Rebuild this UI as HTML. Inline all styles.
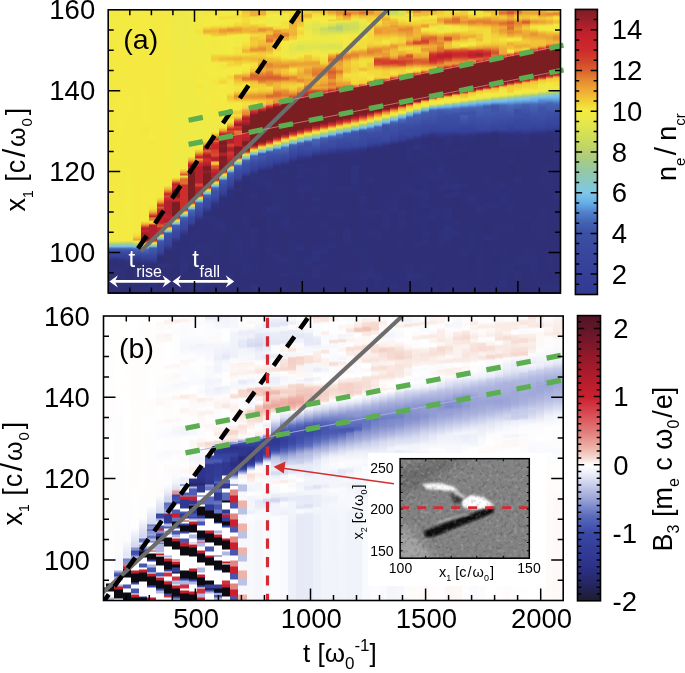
<!DOCTYPE html><html><head><meta charset="utf-8"><title>figure</title><style>html,body{margin:0;padding:0;background:#fff}#c{position:relative;width:685px;height:673px;overflow:hidden;background:#fff}#c i{position:absolute;display:block}.ha{top:9px;height:285px}.hb{top:315px;height:286px}#ca{left:575.4px;top:9.4px;width:22px;height:285.1px;background:linear-gradient(#7b1e22 0px,#95202a 10.2px,#b8202c 20.4px,#c8222c 30.5px,#cc2a2c 40.7px,#d2402c 50.9px,#d8602e 61.1px,#e68a32 71.3px,#eeaa35 81.5px,#f2cc35 91.6px,#f4eb42 101.8px,#e9e84a 112px,#d9e252 122.2px,#c8da5e 132.4px,#b8d070 142.6px,#a4cb8a 152.7px,#92c8a8 162.9px,#88c8c6 173.1px,#7ec8e8 183.3px,#68b0e8 193.5px,#5080cc 203.6px,#4262b0 213.8px,#3c50a3 224px,#38469c 244.4px,#353f98 264.7px,#323a92 285.1px)}#cb{left:577.5px;top:315.6px;width:23px;height:285.2px;background:linear-gradient(#531424 0px,#621629 12.9px,#9c1a2a 47px,#cc1f2e 81px,#d84c55 98px,#e07a78 115px,#eeb3a8 132px,#f6dcd3 142.3px,#ffffff 149.1px,#f0f2fa 155.9px,#d1d6ee 166.1px,#9aa3d6 183.1px,#5a6bbd 200.1px,#3a48a6 217.1px,#2c3188 251.2px,#262660 268.2px,#1d1b30 285.2px)}svg{position:absolute;left:0;top:0;font-family:"Liberation Sans",Arial,Helvetica,sans-serif}</style></head><body><div id="c"><i class="ha" style="left:108px;width:3px;background:linear-gradient(#f3eb43 0px,#f4e841 56px,#f4e941 61px,#f4e841 80px,#f4e841 137px,#f4e841 197px,#f3eb43 231px,#d8e153 233px,#c5d862 234px,#accd80 235px,#92c8a8 236px,#80c7da 237px,#67aae6 238px,#4e74c0 239px,#425aac 240px,#39499f 244px,#38469d 247px,#36429a 248px,#2f327c 251px,#2e2f75 253px,#2e3078 257px,#2f317b 260px,#2e2f75 263px,#2f317a 285px)"></i><i class="ha" style="left:110px;width:9px;background:linear-gradient(#f4e941 0px,#f4ea41 20px,#f4e841 49px,#f4e941 165px,#f4e841 180px,#f3eb43 231px,#ebe949 232px,#dce350 233px,#c5d861 234px,#adcd7f 235px,#91c8aa 236px,#80c7da 237px,#6ab1ea 238px,#517bc6 239px,#445eaf 240px,#3c4ea4 242px,#35429a 247px,#2e3079 251px,#2e2f75 256px,#2f317b 263px,#2e2f75 267px,#2e2f75 285px)"></i><i class="ha" style="left:118px;width:8px;background:linear-gradient(#f4eb42 0px,#f4eb42 39px,#f4e841 47px,#f4ea42 63px,#f4e841 79px,#f4eb42 91px,#f4ea41 112px,#f4e941 183px,#f4e741 187px,#f4ea42 191px,#f4e941 195px,#f4eb42 231px,#ece948 232px,#d8e153 233px,#c0d567 234px,#a6cc87 235px,#8fc8b0 236px,#80c7da 237px,#6bb1ea 238px,#517bc6 239px,#435cad 240px,#3a4aa0 243px,#343f97 248px,#2e3077 252px,#2e3078 267px,#2e2e75 285px)"></i><i class="ha" style="left:125px;width:9px;background:linear-gradient(#f4e740 0px,#f4eb42 14px,#f4e841 54px,#f4e941 63px,#f4e941 74px,#f4eb42 106px,#f4e841 110px,#f4e941 127px,#f3eb43 231px,#e9e84a 232px,#d2df57 233px,#bbd26c 234px,#a2cb8e 235px,#7dc6e1 237px,#67abe6 238px,#527dc8 239px,#4560b0 240px,#3c4fa4 242px,#343f98 248px,#2f317c 253px,#2e2e74 262px,#2e2e75 285px)"></i><i class="ha" style="left:133px;width:9px;background:linear-gradient(#f4eb42 0px,#f4e841 66px,#f4e841 223px,#f3e03d 226px,#f2ce36 228px,#eeac35 230px,#ea9933 231px,#f3e33e 232px,#e6e74c 233px,#d1de58 234px,#b9d06f 235px,#9cca98 236px,#88c8c6 237px,#71bae9 238px,#5686cf 239px,#4663b2 240px,#38479e 246px,#333b91 249px,#2e2f77 254px,#2e3078 265px,#2f317b 269px,#2e2f76 271px,#2e2f75 285px)"></i><i class="ha" style="left:141px;width:9px;background:linear-gradient(#f4eb42 0px,#f4e841 72px,#f4e740 76px,#f4ea41 81px,#f4ea41 104px,#f4eb42 116px,#f4e540 119px,#f2ea44 131px,#f4e841 136px,#f4eb42 211px,#f4e740 212px,#f2ca35 214px,#e89233 216px,#d0392c 218px,#c8222c 219px,#97202a 220px,#cb272c 221px,#c8222c 222px,#bd212c 223px,#97202a 225px,#a6202b 226px,#8f2028 228px,#7b1e22 229px,#7b1e22 231px,#cb272c 232px,#d6542d 233px,#eca234 234px,#f4e941 235px,#d6e154 236px,#b1ce7a 237px,#8cc8b9 238px,#70b8ea 239px,#4968b7 240px,#394aa0 246px,#35419a 249px,#2e3078 254px,#2e2f76 260px,#2f317b 264px,#2e3077 273px,#2e3078 285px)"></i><i class="ha" style="left:149px;width:9px;background:linear-gradient(#f4e941 0px,#f4e941 39px,#f4e841 75px,#f4e941 115px,#f4ea41 131px,#f4e540 135px,#f4eb42 137px,#f4e841 148px,#f4ea42 195px,#f3df3d 200px,#f1c435 202px,#e99533 204px,#d44b2d 206px,#cd2c2c 207px,#c3212c 208px,#e89333 209px,#e17a30 210px,#df7430 211px,#f3d438 212px,#f3e13e 213px,#f2cd35 214px,#eb9d34 215px,#b1202c 216px,#b1202c 229px,#8d1f28 230px,#c8222c 231px,#d4482d 232px,#eb9c34 233px,#f4e941 234px,#d4e056 235px,#a6cc87 236px,#84c7d0 237px,#609bdd 238px,#435cad 239px,#343f98 250px,#2e2f76 255px,#2e2f76 264px,#2e2f76 267px,#2f317b 271px,#2e3079 285px)"></i><i class="ha" style="left:157px;width:8px;background:linear-gradient(#f4e841 0px,#f4e841 35px,#f4e941 175px,#f4e841 188px,#f3d639 190px,#f2c935 191px,#eb9d34 193px,#e27e31 194px,#d6552d 195px,#cf352c 196px,#c9242c 197px,#d9642e 198px,#d13b2c 200px,#cd2c2c 201px,#c4222c 203px,#be212c 205px,#c1212c 214px,#d13d2c 215px,#d75b2e 216px,#d75b2e 217px,#d5512d 218px,#be212c 219px,#be212c 222px,#a8202b 223px,#cc292c 224px,#dc6b2f 225px,#f0bf35 226px,#eae849 227px,#c4d862 228px,#99c99c 229px,#7cc6e3 230px,#527dc7 231px,#425aac 232px,#3b4da3 236px,#36439b 243px,#313687 246px,#2f317b 247px,#2e2e75 249px,#2e2e75 254px,#2f327e 256px,#2e2e75 266px,#2e2f77 275px,#2e2f75 282px,#2f327c 285px)"></i><i class="ha" style="left:164px;width:9px;background:linear-gradient(#f4e841 0px,#f4ea41 26px,#f4e841 46px,#f4e740 49px,#f3eb42 54px,#f4ea42 70px,#f4e841 149px,#f4e841 166px,#f4e841 170px,#f4ea41 176px,#f3e33f 177px,#f1c535 179px,#eba034 181px,#e58732 182px,#d3442c 184px,#cc2b2c 185px,#c5222c 186px,#d6552d 187px,#d2402c 188px,#cb272c 190px,#c8222c 191px,#b1202c 193px,#b1202c 205px,#c4222c 207px,#c3212c 209px,#b1202c 210px,#b1202c 213px,#cb282c 214px,#d6542d 215px,#b6202c 216px,#ce312c 217px,#e07830 218px,#f1c735 219px,#e5e74c 220px,#bed469 221px,#8dc8b8 222px,#68ace7 223px,#4159ab 224px,#3b4da3 227px,#36439b 236px,#323a90 238px,#2e2f76 242px,#2e2f75 253px,#2f317c 256px,#2e2f75 261px,#2e2f76 270px,#2e2f77 278px,#2e3077 285px)"></i><i class="ha" style="left:172px;width:9px;background:linear-gradient(#eee946 0px,#f0ea45 44px,#f0ea45 57px,#f0ea45 80px,#f1ea44 167px,#f4eb42 168px,#f3e03d 169px,#f2ce36 170px,#e99533 172px,#d13e2c 174px,#ca252c 175px,#af202b 176px,#cc2a2c 177px,#c9242c 179px,#c0212c 180px,#9f202b 181px,#7b1e22 183px,#7b1e22 188px,#ba202c 189px,#ca272c 190px,#ca262c 192px,#922029 193px,#7b1e22 194px,#7b1e22 207px,#bb202c 208px,#cf342c 209px,#f2d137 211px,#e1e54e 212px,#bad16e 213px,#8fc8b0 214px,#72bbe9 215px,#4867b6 216px,#425bad 217px,#3949a0 223px,#36449c 228px,#313689 231px,#2f3079 234px,#2e2f76 244px,#2e2e75 285px)"></i><i class="ha" style="left:180px;width:9px;background:linear-gradient(#eee946 0px,#efea46 47px,#f0ea45 67px,#f1ea44 80px,#f0ea45 112px,#f0ea45 158px,#f3eb43 159px,#f3e33f 160px,#f1c335 162px,#e89333 164px,#d44b2d 166px,#e1e54e 167px,#f2d338 168px,#e99833 169px,#da652e 171px,#dd7030 172px,#dc6d2f 175px,#cd2e2c 176px,#cd2e2c 199px,#b2202c 200px,#cd2d2c 201px,#df7530 202px,#f1c735 203px,#e5e74c 204px,#bed469 205px,#92c8a7 206px,#77c0e7 207px,#5078c4 208px,#435cae 209px,#3b4da3 213px,#37459d 220px,#32398e 223px,#2f317b 226px,#2e3077 232px,#2e3078 244px,#2f317a 252px,#2f337f 259px,#2f317b 263px,#2e2f75 265px,#2e3078 272px,#2e2f75 285px)"></i><i class="ha" style="left:188px;width:8px;background:linear-gradient(#efea46 0px,#f0ea45 31px,#f2ea44 55px,#f1ea44 67px,#efea46 87px,#f1ea44 99px,#f0ea45 146px,#f4eb42 147px,#f2d338 149px,#eeae35 151px,#e99633 152px,#d44a2d 154px,#cc2b2c 155px,#c2212c 156px,#98202a 157px,#cb282c 158px,#c8232c 159px,#af202c 161px,#861f25 163px,#7b1e22 164px,#7b1e22 192px,#c1212c 193px,#d13e2c 194px,#e79033 195px,#f3da3b 196px,#dce350 197px,#b5cf74 198px,#8ec8b3 199px,#73bbe9 200px,#4968b7 201px,#38489f 209px,#37459d 213px,#35419a 214px,#2f327d 217px,#2e2f75 219px,#2e3079 227px,#2f307a 243px,#2e2f76 250px,#2f317b 254px,#2e2e75 261px,#2e2f77 270px,#2f327e 273px,#2e3079 283px,#2f317a 285px)"></i><i class="ha" style="left:195px;width:9px;background:linear-gradient(#f1ea44 0px,#f4e841 19px,#f3e13e 23px,#f0ea45 27px,#f1ea44 54px,#f3eb42 74px,#f4e53f 76px,#f4eb42 81px,#efea45 93px,#f0ea45 130px,#f2ea44 134px,#f3eb43 139px,#f4e640 140px,#f2cb35 142px,#eb9e34 144px,#e48331 145px,#d13e2c 147px,#cb282c 148px,#bf212c 149px,#eca134 150px,#d5522d 153px,#d0392c 154px,#cb282c 155px,#ca262c 157px,#b1202c 158px,#b1202c 174px,#d3432c 175px,#d3442c 177px,#c2212c 178px,#b1202c 179px,#b1202c 184px,#912029 185px,#c9242c 186px,#d6542d 187px,#eeaa35 188px,#f0ea45 189px,#ccdc5b 190px,#a0ca91 191px,#81c7d8 192px,#5b90d7 193px,#435dae 194px,#4159ac 196px,#3a4ba1 201px,#36439b 206px,#2f317b 211px,#2e2f75 218px,#2f3079 225px,#2e2f76 232px,#2e3079 234px,#2f337f 236px,#2e3078 241px,#2e3077 270px,#2f327c 272px,#2f317c 285px)"></i><i class="ha" style="left:203px;width:9px;background:linear-gradient(#f0ea45 0px,#f2ea43 1px,#f4e53f 3px,#f2ea43 8px,#f4eb42 17px,#f2ca35 20px,#eead35 22px,#efb135 23px,#f0bc35 24px,#f2cf36 25px,#f3e23e 26px,#f4ea41 27px,#f1ea45 48px,#f3eb43 56px,#f1ea44 77px,#f3eb43 93px,#f4e740 96px,#f0ea45 98px,#f0ea45 129px,#f4e43f 131px,#f2d338 133px,#f1c535 134px,#e78f32 136px,#d13e2c 138px,#c9252c 139px,#a9202b 140px,#d5512d 141px,#dc6b2f 142px,#cb272c 145px,#b8202c 146px,#a6202b 147px,#a6202b 148px,#c1212c 149px,#cd2c2c 150px,#cd2d2c 152px,#c9242c 153px,#b9202c 154px,#b9202c 156px,#871f26 157px,#7b1e22 158px,#7b1e22 161px,#8d1f28 162px,#8e1f28 164px,#7b1e22 165px,#7b1e22 176px,#891f26 177px,#c8222c 178px,#d44a2d 179px,#eb9e34 180px,#f4e841 181px,#d6e154 182px,#aece7d 183px,#8ac8c0 184px,#6cb4ec 185px,#4764b4 186px,#435cae 188px,#3b4da2 190px,#37449c 198px,#31388b 201px,#2e2f77 204px,#2f317b 208px,#2e2f76 219px,#2e2f76 225px,#2f317a 241px,#2f327d 244px,#2e2f76 247px,#2e2f75 269px,#2f317a 271px,#2f317b 276px,#2e2e74 279px,#2e2f75 285px)"></i><i class="ha" style="left:211px;width:9px;background:linear-gradient(#f4e640 0px,#f3e33f 3px,#f3eb43 6px,#f4eb42 16px,#f2ce36 19px,#efb535 21px,#efb035 22px,#f1c335 25px,#f3d73a 27px,#f4e740 28px,#f0ea45 31px,#f4e740 35px,#f0ea45 42px,#f2ea44 44px,#f2cf36 48px,#f2c935 50px,#f3d539 52px,#f4e941 54px,#f3eb43 68px,#f4e640 71px,#f4e640 75px,#f2ea44 78px,#f4e941 92px,#f4e740 95px,#f2ea44 109px,#ede947 120px,#f4e941 123px,#f2cf36 125px,#eca034 127px,#e27d31 128px,#d54e2d 129px,#ce322c 130px,#c9232c 131px,#e68b32 132px,#d3442c 133px,#cb282c 135px,#c9232c 136px,#ca262c 137px,#c7222c 139px,#cb272c 140px,#d13e2c 141px,#d3432c 144px,#d44c2d 145px,#d44c2d 147px,#cb282c 148px,#b1202c 149px,#b1202c 151px,#cc2a2c 152px,#f1c135 153px,#f1c535 155px,#eb9e34 156px,#d6562d 157px,#d6552d 159px,#c9242c 161px,#c9242c 163px,#b1202c 164px,#b1202c 167px,#c6222c 168px,#7b1e22 169px,#b0202c 170px,#cc2b2c 171px,#de7130 172px,#f1c635 173px,#e7e74b 174px,#c2d665 175px,#99c99c 176px,#7ec6e0 177px,#588ad2 178px,#4865b4 179px,#3e52a7 182px,#3c4fa4 184px,#3c4fa4 186px,#344099 192px,#303381 195px,#2e3079 200px,#2e2f75 203px,#2f317a 212px,#2e2f77 223px,#2e3079 232px,#2e3078 244px,#2e3078 248px,#2e2e75 272px,#2e2f76 285px)"></i><i class="ha" style="left:219px;width:9px;background:linear-gradient(#f3eb43 0px,#f4e841 7px,#f3e03e 8px,#f3e03d 10px,#f3eb42 12px,#f4ea42 15px,#f3d93a 18px,#f1c635 19px,#eeaa35 20px,#eb9e34 21px,#ea9933 22px,#eb9f34 23px,#f2c935 26px,#f3eb43 28px,#f2ea44 43px,#f4e640 45px,#f0bf35 49px,#f0ba35 50px,#f1c035 51px,#f4e841 54px,#f4eb42 55px,#f3e33f 56px,#f3eb43 62px,#f2eb43 67px,#f4e43f 69px,#f3df3d 71px,#f3d73a 72px,#f3d639 74px,#f4ea41 76px,#f1ea44 107px,#f3eb43 117px,#f4e640 118px,#f2ca35 120px,#e89333 122px,#d13b2c 124px,#c9242c 125px,#aa202b 126px,#d0392c 127px,#c9242c 128px,#b5202c 130px,#8a1f27 132px,#7b1e22 133px,#7b1e22 135px,#871f26 137px,#871f26 138px,#7b1e22 139px,#7b1e22 143px,#ae202b 144px,#b2202c 146px,#99202a 147px,#7b1e22 148px,#7d1e22 151px,#881f26 152px,#851f25 155px,#7f1e23 157px,#7b1e22 161px,#bd212c 162px,#cf362c 163px,#f2cc35 165px,#e6e74c 166px,#c6d960 167px,#a8cc84 168px,#88c8c5 169px,#69ade8 170px,#4866b5 171px,#4159ac 172px,#3c4fa4 175px,#343f98 184px,#2e2f77 189px,#2e3079 195px,#2e2f75 207px,#2f327e 219px,#2f3079 223px,#2e2f75 226px,#2e2f76 243px,#2e2f76 258px,#2e2f76 263px,#2f317b 265px,#2e2f75 272px,#2e3078 284px,#2e3078 285px)"></i><i class="ha" style="left:227px;width:8px;background:linear-gradient(#f3eb43 0px,#f3eb42 6px,#f3e13e 7px,#f3e03d 9px,#f3eb43 11px,#f4e741 15px,#f3e03d 17px,#f2cf36 18px,#eea935 19px,#e78e32 21px,#e89233 22px,#eeaa35 23px,#f1c735 25px,#f3dc3c 26px,#f3eb43 27px,#f4ea42 44px,#f3de3c 46px,#f0b935 49px,#efb635 50px,#f2ca35 52px,#f3df3d 54px,#f3d539 55px,#f3da3b 57px,#f4eb42 59px,#f3eb43 66px,#f3db3b 67px,#f3d83a 69px,#f4e33f 71px,#f1ea45 79px,#f4ea42 83px,#f3da3b 86px,#f2ca35 87px,#f2c835 89px,#f3dc3c 93px,#f4e740 94px,#f3eb43 99px,#f4e740 105px,#f3e23e 106px,#f3d73a 107px,#f3d639 109px,#f3dd3c 110px,#f4e941 111px,#f3de3c 113px,#f1c435 115px,#e99833 117px,#d5502d 119px,#ce322c 120px,#c8222c 121px,#d6562d 122px,#d2412c 123px,#cb282c 125px,#c8222c 126px,#b1202c 128px,#b1202c 134px,#d13c2c 135px,#d3462c 136px,#d3462c 137px,#ca272c 138px,#b1202c 139px,#b1202c 142px,#cd2f2c 143px,#cf362c 144px,#cf362c 145px,#ca262c 147px,#ca252c 149px,#b1202c 151px,#b1202c 153px,#871f26 154px,#bf212c 155px,#cf362c 156px,#f2c935 158px,#e8e84a 159px,#c4d862 160px,#9dca96 161px,#80c7d9 162px,#5b91d7 163px,#4560b1 164px,#3b4ea3 169px,#35419a 176px,#2f3079 182px,#2e3077 186px,#2e3078 246px,#2e3078 258px,#2e2f76 262px,#2f317b 265px,#2e2f76 278px,#2e3078 285px)"></i><i class="ha" style="left:234px;width:9px;background:linear-gradient(#f3eb43 0px,#f4e841 5px,#f3df3d 6px,#f3dd3c 8px,#f4e841 10px,#f4e841 13px,#f3de3c 14px,#f3d93a 16px,#f2d137 17px,#f0bb35 18px,#eb9f34 20px,#ea9833 21px,#f0b735 24px,#f2ce36 25px,#f4e941 26px,#efea45 29px,#f3eb43 37px,#f3e23e 39px,#f4e841 43px,#f3da3b 46px,#efb435 49px,#efb135 50px,#efb635 51px,#f2ce36 53px,#f2cb35 54px,#f3dd3c 57px,#f4ea42 58px,#f4eb42 64px,#f3e03d 65px,#f0b735 66px,#eda735 67px,#eca234 68px,#eca334 69px,#efb235 70px,#f3d73a 75px,#f3de3d 77px,#f4e741 78px,#f3e33f 81px,#f2d438 83px,#efb435 85px,#eb9c34 86px,#e89133 87px,#e78e32 88px,#ea9b34 89px,#f1c335 91px,#f4ea42 94px,#f4e841 101px,#f2cf36 102px,#f2ca35 104px,#f2cf36 105px,#f3de3c 106px,#f3d83a 107px,#f2cb35 108px,#efb335 109px,#d44c2d 112px,#ce312c 113px,#c9232c 114px,#af202b 115px,#7e1e23 116px,#c9232c 117px,#cf372c 118px,#cb282c 120px,#cc2c2c 121px,#e17a30 122px,#e07830 124px,#dc6b2f 125px,#cb272c 126px,#c9252c 129px,#cb292c 136px,#c7222c 137px,#7f1e23 138px,#7b1e22 141px,#881f26 142px,#8a1f27 144px,#7b1e22 146px,#9b202a 147px,#c9242c 148px,#d54e2d 149px,#ea9b34 150px,#f3e13e 151px,#dce350 152px,#b9d16f 153px,#90c8ad 154px,#77c1e6 155px,#527ec8 156px,#435daf 157px,#3b4ea3 161px,#35429a 169px,#2f317b 173px,#2e2f77 177px,#2f317b 180px,#2e2e75 184px,#2e2f75 217px,#2f317a 237px,#2f317c 241px,#2e3078 245px,#2e2f76 285px)"></i><i class="ha" style="left:242px;width:9px;background:linear-gradient(#f4e640 0px,#f2ca35 1px,#f1c435 2px,#f1c635 4px,#f2ce36 5px,#f2d237 8px,#f3dc3c 9px,#f3dd3c 12px,#f2ce36 17px,#efb235 20px,#efb235 22px,#f0b735 23px,#f1c635 24px,#f3dc3c 25px,#f4e941 26px,#f4e740 33px,#f3dc3c 37px,#f2c835 40px,#efb535 41px,#efb635 42px,#f0bd35 43px,#f2cb35 44px,#f3de3c 45px,#f3da3b 46px,#f1c435 48px,#f0bc35 50px,#f2d238 53px,#f4ea42 56px,#f4e740 61px,#f3df3d 63px,#f3d639 64px,#e99533 68px,#e07830 69px,#e07930 70px,#e58632 71px,#eb9e34 72px,#f2cb35 73px,#f3e03d 75px,#f4e640 79px,#f3e23e 81px,#f2d037 83px,#eca334 86px,#ea9a34 87px,#ea9933 88px,#eb9f34 89px,#f2ce36 92px,#f3e03e 94px,#f4e53f 96px,#f3db3b 97px,#f3d93a 99px,#f2cf36 100px,#eda735 101px,#e68c32 104px,#e89033 105px,#df7430 106px,#d44d2d 107px,#cd2c2c 108px,#c1212c 109px,#94202a 110px,#c6222c 111px,#c0212c 112px,#8e1f28 116px,#7b1e22 117px,#7b1e22 124px,#c3212c 125px,#c8222c 127px,#c8222c 128px,#ba202c 129px,#b7202c 131px,#9e202b 132px,#7b1e22 133px,#7b1e22 136px,#9d202a 137px,#ac202b 138px,#a8202b 140px,#8d1f28 141px,#c4222c 142px,#d13c2c 143px,#f2cc35 145px,#e8e84a 146px,#c7d95f 147px,#a2cb8d 148px,#88c8c7 149px,#6bb2eb 150px,#4867b6 151px,#3e52a6 154px,#37469d 163px,#35419a 164px,#2e3078 168px,#2e2e75 176px,#2e2f77 180px,#2e2f76 204px,#2f317a 208px,#2e2f76 228px,#2f307a 252px,#2f317b 260px,#2e2f76 269px,#2e2f76 285px)"></i><i class="ha" style="left:250px;width:9px;background:linear-gradient(#f0ba35 0px,#eeab35 1px,#efaf35 6px,#f0b935 7px,#f3e13e 8px,#f4e841 14px,#f4e43f 15px,#f2d137 16px,#efb735 19px,#f0b935 20px,#eeaa35 22px,#efaf35 23px,#f3db3b 26px,#f3e03d 27px,#f2cb35 28px,#f1c535 29px,#f2cd35 33px,#f2ca35 35px,#f2cf36 36px,#f0b935 38px,#eeaa35 39px,#e89333 40px,#e89333 41px,#eb9d34 42px,#efaf35 43px,#f2d137 44px,#f3d539 45px,#f1c535 48px,#f0b735 50px,#f1c235 52px,#f3db3b 54px,#f3e13e 55px,#f3da3b 59px,#f2cd36 60px,#f1c735 62px,#f0b935 63px,#e89133 64px,#db6a2f 66px,#d85e2e 67px,#da662f 68px,#dc6b2f 70px,#e38031 71px,#eda735 72px,#f0bb35 73px,#f2ce36 75px,#f2d338 79px,#f3dd3c 80px,#f2d237 82px,#f0b935 84px,#ea9b34 86px,#e78f32 88px,#e99833 89px,#f2cc35 92px,#f3de3c 94px,#f3de3c 95px,#f1c235 97px,#efb435 98px,#eb9d34 99px,#dd6e2f 100px,#d54e2d 101px,#cf362c 102px,#ca262c 103px,#bf212c 104px,#95202a 105px,#7c1e22 106px,#7b1e22 135px,#821f24 136px,#bb202c 137px,#cd2d2c 138px,#d8612e 139px,#eca334 140px,#f3e13e 141px,#dfe44f 142px,#bed469 143px,#94c8a4 144px,#7ec6e0 145px,#5d96da 146px,#435dae 147px,#445eaf 149px,#3b4ca2 153px,#343f98 161px,#2f317b 165px,#2e2f76 182px,#2f327d 186px,#2e2f75 194px,#2e2e75 219px,#2f327d 221px,#2e3078 227px,#2f317c 231px,#2e2f76 245px,#2e3079 256px,#2e2f77 270px,#2e2f75 275px,#2f327e 276px,#2f337f 279px,#2e2f75 285px)"></i><i class="ha" style="left:258px;width:9px;background:linear-gradient(#efb035 0px,#eeaa35 5px,#efb335 6px,#f3de3c 7px,#f3e33f 10px,#f4eb42 11px,#f4ea42 14px,#f3df3d 15px,#f3d639 17px,#f2cb35 18px,#eeaa35 19px,#ea9933 20px,#e78e32 21px,#e89233 22px,#efb335 23px,#f2cf36 25px,#f3d83a 26px,#f2d137 28px,#f2d137 30px,#f1c435 31px,#f0bd35 35px,#eeab35 37px,#e89033 39px,#e68b32 40px,#e78f32 41px,#eb9d34 42px,#f0bb35 43px,#f2c935 44px,#f2cf36 47px,#efb335 50px,#eeac35 51px,#f0bd35 54px,#eca134 55px,#ea9a33 56px,#eb9d34 58px,#efb135 61px,#efb035 62px,#eb9e34 63px,#e68a32 65px,#e17a31 66px,#da672f 68px,#d9622e 69px,#db692f 71px,#ea9c34 74px,#f1c035 75px,#f2cc35 76px,#f3d438 79px,#f2cd36 81px,#f1c035 83px,#e89333 86px,#e68a32 87px,#e78d32 88px,#eea835 90px,#f2c935 92px,#f2d237 93px,#f2d037 95px,#f1c235 96px,#eeab35 97px,#e78d32 98px,#d6542d 99px,#ce302c 100px,#c6222c 101px,#9c202a 102px,#7b1e22 103px,#7b1e22 133px,#aa202b 134px,#ca272c 135px,#d54e2d 136px,#e89433 137px,#f2d137 138px,#e7e74b 139px,#c8da5e 140px,#a7cc86 141px,#8bc8bd 142px,#71bae9 143px,#5079c4 144px,#3f55a8 145px,#3e53a7 146px,#4158ab 147px,#333e95 158px,#2e3078 162px,#2f317a 171px,#2e2f76 183px,#2e2f77 199px,#2e3079 206px,#2e2e74 213px,#2e2f76 278px,#2e3077 285px)"></i><i class="ha" style="left:266px;width:8px;background:linear-gradient(#f3e23e 0px,#f3e13e 5px,#f4eb42 6px,#ece948 13px,#f3eb43 17px,#f2ca35 18px,#eeaa35 19px,#eb9e34 21px,#efb435 22px,#f2c935 25px,#ea9a34 26px,#e78d32 27px,#e78f32 29px,#e17c31 30px,#df7530 31px,#df7530 32px,#e27e31 33px,#efaf35 34px,#f0bd35 35px,#eeae35 37px,#efb335 38px,#eeab35 40px,#efaf35 41px,#f2cf36 44px,#f3d539 45px,#f3e13e 46px,#f3df3d 47px,#f2cd35 49px,#f0bc35 50px,#efb035 53px,#e99633 54px,#e58732 55px,#e58632 57px,#eca334 60px,#eea835 61px,#e89133 62px,#df7530 65px,#df7630 66px,#d85e2e 68px,#d75c2e 69px,#e07830 71px,#e99833 73px,#efb435 77px,#f3d83a 78px,#f3dc3c 79px,#f2cb35 82px,#ea9a34 85px,#e07730 86px,#da672f 87px,#dd6e2f 88px,#e38231 89px,#eca134 90px,#efb435 91px,#f0bc35 92px,#efb735 94px,#eca134 95px,#e38031 96px,#d5502d 97px,#cb282c 98px,#b9202c 99px,#831f25 100px,#7b1e22 101px,#7b1e22 130px,#851f25 131px,#bb202c 132px,#cc292c 133px,#d5522d 134px,#e89333 135px,#f2ce36 136px,#eae849 137px,#c8da5e 138px,#a6cb88 139px,#8bc8bd 140px,#74bde8 141px,#527dc7 142px,#425aac 143px,#3b4da3 148px,#36429a 155px,#2e2f77 162px,#2f327d 177px,#2e3078 181px,#2e2f76 197px,#303482 199px,#303381 201px,#2e3079 203px,#2e3077 226px,#2e2f77 237px,#2f327c 240px,#2e2f76 249px,#2e2f76 265px,#2e2f76 281px,#2f317b 285px)"></i><i class="ha" style="left:273px;width:9px;background:linear-gradient(#f3dc3c 0px,#f3db3b 4px,#f3eb42 5px,#eee946 12px,#f4eb42 16px,#f3d93a 19px,#f3d438 20px,#eea835 21px,#e99533 22px,#e99733 24px,#e58632 25px,#e27e31 26px,#e48331 28px,#e89033 29px,#ea9b34 32px,#f2cd35 33px,#f3e03d 34px,#f3d93b 38px,#f2d237 40px,#f4e941 44px,#f3e13e 47px,#f1c035 51px,#eca334 54px,#e99533 57px,#ea9933 58px,#efaf35 60px,#efb635 62px,#efb435 63px,#eead35 64px,#de7130 67px,#d9632e 68px,#d85f2e 69px,#d9642e 70px,#e48532 72px,#eb9f34 73px,#efb035 74px,#f0bd35 76px,#efb035 80px,#e48331 83px,#dd6f2f 84px,#dc6c2f 87px,#df7630 88px,#e78e32 89px,#ea9b34 90px,#eb9d34 91px,#e78c32 93px,#db692f 94px,#d2402c 95px,#ca262c 96px,#ae202b 97px,#7b1e22 98px,#7b1e22 127px,#821f24 128px,#b9202c 129px,#cb282c 130px,#d5502d 131px,#e78f32 132px,#f0bb35 133px,#f3eb42 134px,#dde350 135px,#c1d566 136px,#9fca92 137px,#88c8c6 138px,#71b9ea 139px,#537ec8 140px,#4662b2 141px,#3b4ea3 147px,#354099 153px,#2e2f77 158px,#2e3078 192px,#2f327c 198px,#2e2f77 211px,#2e2f76 244px,#2f327e 247px,#2e3079 252px,#2e2f77 268px,#2e3077 281px,#2e3078 285px)"></i><i class="ha" style="left:281px;width:9px;background:linear-gradient(#f2d238 0px,#f2d237 3px,#f3e23e 4px,#f4e841 6px,#f0ea45 11px,#f3e03d 13px,#f4e33f 19px,#f1c735 20px,#efb535 21px,#efb135 23px,#e89433 24px,#e48331 25px,#e48431 27px,#eca334 28px,#efb335 29px,#f0b735 31px,#f3e13e 32px,#f4eb42 33px,#eee947 39px,#f4e941 48px,#f2d137 51px,#efb435 53px,#eda535 55px,#e99533 56px,#e78d32 57px,#eda434 59px,#f0bd35 60px,#f2cb35 61px,#f2c835 64px,#eca134 67px,#e27d31 68px,#db682f 69px,#dc6d2f 70px,#e17b31 71px,#ea9b34 72px,#efb135 73px,#f2cd35 76px,#f2cd35 79px,#efb435 80px,#eca234 81px,#e58832 83px,#e68a32 84px,#e07930 86px,#e17a30 87px,#e68b32 88px,#e99433 89px,#e99433 90px,#e68932 91px,#d75d2e 92px,#d0372c 93px,#c8222c 94px,#98202a 95px,#7b1e22 96px,#7b1e22 125px,#a4202b 126px,#c8232c 127px,#d13e2c 128px,#efb235 130px,#f4e740 131px,#e5e74c 132px,#ccdc5b 133px,#b0ce7a 134px,#92c8a8 135px,#84c7d1 136px,#6eb7eb 137px,#517bc6 138px,#4a6bb9 139px,#3b4ea3 146px,#35419a 151px,#2e3078 156px,#2e2f76 159px,#2f327c 162px,#2e2f75 168px,#2e3078 176px,#2e3078 208px,#2f327e 215px,#2e2f75 223px,#2e2f76 247px,#2f317b 251px,#2e3077 256px,#2e2f77 263px,#2f327e 266px,#2f327d 267px,#2e2f76 268px,#2f317b 279px,#2e3079 284px,#2f307a 285px)"></i><i class="ha" style="left:289px;width:9px;background:linear-gradient(#f2ce36 0px,#f2cf36 2px,#f3db3b 3px,#f3df3d 6px,#f3dc3c 10px,#f0bf35 11px,#efaf35 12px,#f0b935 21px,#efb035 26px,#f1c135 27px,#f2cb35 28px,#f2ce36 30px,#f3e23e 31px,#f4eb42 32px,#e0e44f 39px,#e8e74b 44px,#f4e841 49px,#f3de3c 50px,#f2cb35 51px,#f0b935 52px,#eb9f34 55px,#ea9b34 56px,#efb235 58px,#f2cf36 59px,#f3de3d 60px,#f3e33f 62px,#f2ca35 65px,#f0bd35 66px,#e58832 68px,#e48431 69px,#e68932 70px,#f2ca35 75px,#f2d338 77px,#f3d539 79px,#f2c835 81px,#e68932 85px,#d8612e 87px,#d23e2c 89px,#cc292c 90px,#bd212c 91px,#841f25 92px,#7b1e22 93px,#7b1e22 122px,#912029 123px,#bf212c 124px,#cc2b2c 125px,#d6542d 126px,#e78f33 127px,#f1c335 128px,#f1ea45 129px,#dbe351 130px,#c2d665 131px,#a5cb88 132px,#7ac4e5 134px,#5a8fd6 135px,#445eaf 136px,#3b4ea3 141px,#343f98 149px,#2e2f76 153px,#2e2f77 214px,#2f317b 218px,#2e2f76 227px,#2e3079 235px,#2e3078 239px,#2e3078 263px,#2e3079 266px,#2e2f75 271px,#2e2f76 285px)"></i><i class="ha" style="left:297px;width:8px;background:linear-gradient(#f4e941 0px,#f4e941 1px,#f3dd3c 3px,#f3de3c 5px,#f1c235 6px,#eea835 7px,#efb535 11px,#f2cd35 16px,#f2cf36 17px,#f4e640 19px,#f2d137 25px,#f3e33e 26px,#f4e540 28px,#f1ea44 31px,#e3e64d 35px,#d8e252 37px,#dde450 41px,#f1ea44 44px,#f4e741 45px,#f4ea42 47px,#f3d639 49px,#f2cd35 51px,#eda835 54px,#eca134 55px,#eeac35 57px,#f1c435 59px,#f1c235 61px,#efb235 64px,#eea935 68px,#eeac35 69px,#e58632 71px,#ea9a34 73px,#f0bb35 74px,#f2d338 75px,#f3d639 77px,#efb235 79px,#ea9b34 82px,#e68a32 83px,#da652e 84px,#d3472c 85px,#cb282c 87px,#c4222c 88px,#a4202b 89px,#7b1e22 90px,#7b1e22 120px,#932029 121px,#c1212c 122px,#cd2e2c 123px,#d6572d 124px,#e89333 125px,#f2ca35 126px,#ede947 127px,#d7e154 128px,#bdd36a 129px,#a3cb8c 130px,#7bc5e4 132px,#619edf 133px,#4662b2 134px,#3c4ea3 138px,#343f98 146px,#303381 149px,#2e2f76 153px,#2f317a 157px,#2f327c 169px,#2e2f75 171px,#2f327e 181px,#2e3078 185px,#2f327c 189px,#2e2f76 192px,#2e2f76 202px,#2e3078 214px,#2e2f76 233px,#303380 241px,#2e2f76 243px,#2e2f77 262px,#2f317a 265px,#2e2f76 273px,#2f317a 285px)"></i><i class="ha" style="left:304px;width:9px;background:linear-gradient(#f4e43f 0px,#f2d137 2px,#f2d237 4px,#efb635 6px,#f0bb35 8px,#f2cf36 9px,#f3e23e 10px,#f3eb43 12px,#e7e74b 17px,#f3eb43 29px,#e6e74b 35px,#e0e44f 37px,#e6e74b 42px,#f4e841 45px,#f3d639 46px,#f1c435 48px,#f2c835 50px,#eca234 54px,#eca234 56px,#efb135 57px,#f0b735 58px,#eca134 61px,#ea9933 62px,#ea9933 64px,#efb635 68px,#efb335 69px,#eca334 70px,#eca034 72px,#eda835 74px,#eca434 76px,#de7130 78px,#e17b31 79px,#e27e31 80px,#dd6f2f 81px,#ce302c 84px,#ca262c 86px,#bb202c 87px,#8b1f27 88px,#7b1e22 89px,#7b1e22 118px,#881f26 119px,#b8202c 120px,#cb282c 121px,#d5512d 122px,#e68b32 123px,#f0bd35 124px,#f4eb42 125px,#e1e54e 126px,#c8da5e 127px,#aece7d 128px,#92c8a8 129px,#82c7d6 130px,#6bb3eb 131px,#5079c4 132px,#435cae 133px,#3c50a4 135px,#3b4da2 140px,#36429b 145px,#2e3079 150px,#2e2f77 156px,#2f317c 160px,#2e2f76 164px,#2e3079 173px,#2f327d 180px,#2e2f77 185px,#2e3078 201px,#2e2f75 236px,#2f307a 240px,#2e2f76 245px,#2f327d 252px,#2e2f77 258px,#2e3077 277px,#2e3079 285px)"></i><i class="ha" style="left:312px;width:9px;background:linear-gradient(#f3d83a 0px,#f1c235 1px,#f1c335 3px,#f3dd3c 5px,#f3eb43 10px,#dfe44f 15px,#e2e54e 19px,#dbe351 20px,#dfe44f 22px,#f1ea44 29px,#e7e74b 34px,#dee44f 38px,#e4e64c 40px,#efea45 42px,#f4e740 46px,#f2cf36 51px,#eda434 53px,#eb9f34 55px,#eeab35 57px,#e78f32 60px,#e48331 61px,#e38131 63px,#de7330 65px,#e68a32 67px,#efb135 69px,#eeaa35 71px,#efb535 72px,#f0b835 73px,#eda835 76px,#eb9e34 77px,#eeac35 79px,#e89433 80px,#db6a2f 81px,#d13b2c 83px,#cf352c 84px,#ca252c 85px,#a8202b 86px,#7b1e22 87px,#7b1e22 116px,#94202a 117px,#bf212c 118px,#cc292c 119px,#d54e2d 120px,#e58732 121px,#f0b835 122px,#f4e741 123px,#e5e74c 124px,#d0de58 125px,#b8d070 126px,#9bca99 127px,#87c8c9 128px,#70b9ea 129px,#5686cf 130px,#435dae 131px,#4662b2 133px,#333d94 144px,#2e2f77 148px,#2e3078 168px,#2e3078 188px,#2f327d 190px,#2e2f76 195px,#2f317a 199px,#2e2f75 212px,#2e2f76 228px,#2e3078 239px,#2f327e 243px,#2f327e 251px,#2e2f77 254px,#2f317a 260px,#2f317b 264px,#2f327e 267px,#2e2f76 270px,#2e2f76 284px,#2e3079 285px)"></i><i class="ha" style="left:320px;width:9px;background:linear-gradient(#f3db3b 0px,#f1c035 3px,#f1c335 4px,#f3db3b 6px,#f3eb42 9px,#f2ea44 11px,#f4ea42 12px,#e1e54e 18px,#cfdd59 19px,#c7d960 20px,#d4e055 23px,#dbe351 25px,#ede947 28px,#e9e84a 33px,#dbe351 38px,#f3eb42 46px,#f3df3d 51px,#f2d438 54px,#f2ca35 55px,#efb435 56px,#e99433 59px,#e58632 60px,#e27f31 62px,#e48431 64px,#e99633 66px,#efb735 68px,#efb235 72px,#eca134 75px,#e78f32 76px,#eda434 78px,#eba034 79px,#e78e32 80px,#df7630 81px,#d5512d 82px,#d23e2c 83px,#c8232c 84px,#861f25 85px,#7b1e22 86px,#7b1e22 114px,#8f2028 115px,#bc212c 116px,#cb282c 117px,#d3452c 118px,#eeae35 120px,#f3dd3c 121px,#e9e84a 122px,#d4e055 123px,#bfd568 124px,#a5cb89 125px,#7cc6e4 127px,#619ddf 128px,#4765b4 129px,#3f55a8 132px,#3c4ea3 135px,#37459d 140px,#333c93 143px,#2e2f77 147px,#2e2f76 155px,#2f317b 157px,#2e2f76 197px,#2e2f76 211px,#2f317a 214px,#2e2f76 223px,#2e2f75 227px,#2e2f75 235px,#2f327d 242px,#2e2f77 246px,#2f307a 255px,#2f317c 258px,#2e2f76 261px,#2e2f77 283px,#2f317a 285px)"></i><i class="ha" style="left:328px;width:9px;background:linear-gradient(#f3db3b 0px,#f2c935 1px,#efb235 2px,#eca334 3px,#eda534 4px,#f2cc35 6px,#f4ea41 8px,#f0ea45 9px,#f4eb42 10px,#f2cd35 11px,#f4e841 13px,#ece948 14px,#dde350 15px,#d3df56 17px,#c2d665 18px,#bad16e 19px,#cbdb5c 22px,#e8e84b 26px,#eee946 32px,#e6e74b 34px,#dae252 36px,#d9e252 38px,#ebe948 42px,#f2eb43 43px,#f3e03e 44px,#f2cf36 45px,#eca134 47px,#e89133 48px,#e07830 50px,#dc6b2f 51px,#eea935 55px,#eca234 57px,#e38131 59px,#df7430 61px,#d7582e 63px,#de7230 66px,#e07830 68px,#df7430 69px,#ea9c34 71px,#e89133 73px,#df7530 75px,#e68932 77px,#e78e32 78px,#e68a32 79px,#d13d2c 81px,#ca262c 82px,#a4202b 83px,#7b1e22 84px,#7b1e22 112px,#891f26 113px,#b6202c 114px,#c9252c 115px,#d03a2c 116px,#da662f 117px,#eb9d34 118px,#f2ce36 119px,#efea46 120px,#dbe351 121px,#c1d666 122px,#a3cb8c 123px,#7dc6e1 125px,#68ace7 126px,#517ac5 127px,#4560b1 128px,#3c4ea3 132px,#3b4ca2 137px,#343e97 141px,#2e2f77 146px,#2e2f76 185px,#2e2f76 201px,#2f317b 205px,#2e2f76 210px,#2e3078 221px,#2f317c 225px,#2e2f75 228px,#2e3079 234px,#2f327d 237px,#2e2f76 240px,#2e2f76 266px,#2e3079 281px,#2f317b 285px)"></i><i class="ha" style="left:336px;width:8px;background:linear-gradient(#f2d037 0px,#f0ba35 1px,#eb9e34 2px,#e78e32 3px,#e78f32 4px,#eca334 6px,#f2cb35 8px,#f2cd36 9px,#f1c635 10px,#f3e03d 12px,#ede947 13px,#d6e154 14px,#c8da5e 16px,#b1ce79 18px,#b6d073 20px,#cedd5a 23px,#ece948 26px,#f3eb43 29px,#ece948 33px,#e1e54e 35px,#dce350 39px,#e6e74b 41px,#f4e740 43px,#f2d238 44px,#efb035 45px,#dd7030 46px,#d7582e 47px,#d5502d 48px,#d5532d 49px,#d8602e 50px,#e68b32 52px,#eca434 54px,#eca234 56px,#efaf35 58px,#eca434 60px,#ea9833 61px,#e07830 62px,#e48532 64px,#eead35 66px,#efb235 68px,#f1c035 70px,#efb035 73px,#eb9c34 74px,#eb9c34 76px,#e89133 77px,#e07730 78px,#cc2b2c 80px,#bd212c 81px,#7e1e23 82px,#7b1e22 110px,#881f26 111px,#b4202c 112px,#c9242c 113px,#cf342c 114px,#d75b2e 115px,#e89133 116px,#f1c135 117px,#f3eb43 118px,#c9db5d 120px,#aecd7e 121px,#8fc8b1 122px,#7fc7db 123px,#6ab0ea 124px,#5583cc 125px,#4867b6 126px,#4159ab 129px,#3c50a5 130px,#37469d 137px,#303484 143px,#2e2f77 146px,#2e2f76 161px,#2e2f77 177px,#2f317b 180px,#2e2f75 184px,#2e3078 201px,#2f317c 208px,#2e2e74 211px,#2e2f76 237px,#2e2f76 285px)"></i><i class="ha" style="left:343px;width:9px;background:linear-gradient(#f2ca35 0px,#eba034 2px,#e27f31 4px,#d75c2e 5px,#e89133 7px,#efb135 9px,#f2c835 11px,#f4e941 12px,#dee450 13px,#ccdc5b 16px,#cddc5a 21px,#f1ea45 26px,#f3eb43 32px,#eee947 36px,#f4eb42 38px,#f4ea41 41px,#f1c735 43px,#ea9933 45px,#e58832 46px,#e27f31 47px,#e38131 48px,#e68932 49px,#f0b935 52px,#f1c635 54px,#f1c735 57px,#f0bc35 61px,#f1c235 63px,#f2cb35 64px,#f3db3b 65px,#f3e13e 67px,#f2d137 70px,#f2c835 72px,#eeaa35 73px,#eca234 75px,#e99633 76px,#e17c31 77px,#d44c2d 78px,#ca272c 79px,#a4202b 80px,#7b1e22 81px,#7b1e22 109px,#99202a 110px,#c0212c 111px,#cc2a2c 112px,#d5502d 113px,#e48431 114px,#efb235 115px,#f3dd3c 116px,#ebe948 117px,#d6e154 118px,#bfd468 119px,#a2cb8d 120px,#8ac8c0 121px,#79c2e6 122px,#629fdf 123px,#4867b6 124px,#4159ac 125px,#3b4ea3 130px,#37449c 138px,#333c93 140px,#2e3078 144px,#2e2f77 160px,#2e2f76 176px,#2f317a 179px,#2e2f75 188px,#2e3078 196px,#2e2f76 204px,#2e3079 211px,#2e2e75 216px,#2e3078 220px,#2f327d 222px,#2f317b 231px,#2e2f75 240px,#2e2f76 245px,#2e3078 264px,#2f317c 267px,#2e2e75 277px,#2e2f76 285px)"></i><i class="ha" style="left:351px;width:9px;background:linear-gradient(#f2cd35 0px,#e89133 3px,#e68932 4px,#ea9a33 5px,#f2c835 7px,#f3e33f 10px,#eee946 11px,#e1e54e 12px,#d1de58 15px,#cedd59 19px,#f1ea44 27px,#f3e13e 30px,#f4eb42 32px,#f3eb43 35px,#f3d93b 36px,#f3d539 39px,#f3da3b 40px,#f2cd35 41px,#eca434 43px,#e58832 45px,#e48331 46px,#e99533 48px,#f2c935 51px,#f3d83a 53px,#f3d83a 55px,#f2d037 59px,#f3d739 63px,#f3e03d 65px,#f3d93a 74px,#f3d539 75px,#efb235 76px,#df7430 77px,#cb282c 78px,#7b1e22 79px,#7b1e22 107px,#9f202b 108px,#c5222c 109px,#ce302c 110px,#de7230 112px,#eba034 113px,#f2cb35 114px,#f0ea45 115px,#dbe351 116px,#c2d665 117px,#a7cc86 118px,#8ec8b3 119px,#7dc6e2 120px,#67aae6 121px,#4f76c2 122px,#4158ab 123px,#3d51a6 127px,#3d51a5 129px,#37469d 137px,#333d95 139px,#2f327d 142px,#2f317c 147px,#2e2f76 149px,#2e2f76 155px,#2f327c 157px,#2f327e 168px,#2e2f76 187px,#2e2e75 215px,#2e2f75 239px,#2f317a 242px,#2e2f77 250px,#2e2f75 259px,#2e3079 263px,#2e2f75 285px)"></i><i class="ha" style="left:359px;width:9px;background:linear-gradient(#f2ca35 0px,#f0b735 1px,#eb9d34 2px,#de7330 3px,#dd7030 4px,#f0b835 7px,#f1c635 8px,#f3da3b 10px,#f2ea43 11px,#dfe44f 18px,#e1e54e 21px,#f4e841 27px,#f3de3d 31px,#f3dc3c 39px,#f2d037 40px,#eeaa35 42px,#e99833 44px,#e99733 45px,#eda635 47px,#f2ca35 49px,#f3d639 50px,#f3e23e 53px,#f3dc3c 58px,#f1c335 59px,#f0be35 61px,#f2cc35 62px,#f4e43f 63px,#f4e53f 66px,#f3df3d 68px,#f3dd3c 70px,#f3d539 72px,#f2d137 74px,#eeae35 75px,#d6542d 76px,#ae202b 77px,#7b1e22 78px,#7b1e22 105px,#8c1f27 106px,#c4212c 107px,#cf342c 108px,#d6552d 109px,#e27f31 110px,#eb9d34 111px,#f1c335 112px,#f4e841 113px,#e5e74c 114px,#c6d960 115px,#aacc83 116px,#90c8af 117px,#82c7d6 118px,#71baea 119px,#5b92d8 120px,#4662b2 121px,#3c4fa4 123px,#38479e 136px,#343f97 138px,#2f337f 141px,#2e2f76 144px,#2e2f77 186px,#2f327d 188px,#2f3079 195px,#2e2f76 222px,#2e3077 226px,#2e3079 263px,#2f317a 266px,#2f3380 269px,#2e2f76 272px,#2e3079 279px,#2e3078 285px)"></i><i class="ha" style="left:367px;width:8px;background:linear-gradient(#f2d338 0px,#f0bf35 1px,#eba034 2px,#e68b32 3px,#e68c32 4px,#f1c235 7px,#f2ce36 8px,#f3dc3c 13px,#f4e941 14px,#f4e941 17px,#f3d93a 21px,#f3df3d 22px,#f3d73a 27px,#f3db3b 29px,#f3d83a 31px,#f3da3b 33px,#f2c935 37px,#e68932 41px,#e58832 42px,#e27f31 43px,#e38231 44px,#ea9933 46px,#f2ca35 49px,#f3d639 50px,#f3dd3c 52px,#f3dc3c 53px,#f2ce36 54px,#f2c935 56px,#f2d037 61px,#f3d93b 62px,#f3dc3c 65px,#f4e43f 67px,#f4e740 70px,#f3dc3c 71px,#f1c135 72px,#e89433 73px,#d44d2d 74px,#c4222c 75px,#7b1e22 76px,#7b1e22 103px,#8c1f27 104px,#c2212c 105px,#d0382c 106px,#d75c2e 107px,#e58732 108px,#eda835 109px,#f1c035 110px,#f3df3d 111px,#ece948 112px,#d7e153 113px,#b8d070 114px,#98c99f 115px,#86c8cb 116px,#77c1e6 117px,#68ace7 118px,#5481cb 119px,#4663b3 120px,#3c4fa4 124px,#36429a 135px,#323a8f 137px,#2e2f76 140px,#2e2f75 153px,#2e3079 169px,#2f327e 172px,#2e2e75 175px,#2e2f75 201px,#2f317c 204px,#2e2f75 214px,#2e2f75 221px,#2f327d 223px,#2f317c 225px,#2e2f75 227px,#2e2f77 243px,#2e3079 258px,#2f337f 268px,#2e2e75 271px,#2e3078 283px,#2e3079 285px)"></i><i class="ha" style="left:374px;width:9px;background:linear-gradient(#f3df3d 0px,#f2cc35 1px,#f0ba35 2px,#efb035 3px,#eea935 5px,#f1c735 8px,#f3da3b 9px,#f3e03d 14px,#f2d137 16px,#eda635 19px,#ea9c34 20px,#e99433 23px,#ea9933 24px,#f1c135 27px,#f2cb35 28px,#f3dc3c 33px,#f3da3b 35px,#f2d338 36px,#e78e32 40px,#e58832 42px,#e78c32 43px,#e99633 44px,#eba034 46px,#eeaa35 47px,#eda635 48px,#de7130 49px,#d6542d 50px,#d13c2c 52px,#d3482c 54px,#d44c2d 55px,#d75a2e 56px,#e78d32 57px,#eda635 58px,#f2d137 61px,#f3db3b 63px,#f3d93b 68px,#f2cc35 69px,#efb335 70px,#e78e32 71px,#d5512d 72px,#ca262c 73px,#95202a 74px,#7b1e22 75px,#7b1e22 102px,#c4212c 103px,#d23e2c 104px,#dc6d2f 105px,#eeae35 107px,#f2cd35 108px,#f4e43f 109px,#ede947 110px,#dee44f 111px,#c2d665 112px,#a4cb8b 113px,#8bc8be 114px,#7ec6df 115px,#6db5ec 116px,#5789d1 117px,#4560b1 118px,#3c4ea3 124px,#37459c 133px,#343e96 135px,#2e2f77 139px,#2e2f76 200px,#2f327d 203px,#2e2f75 206px,#2e3079 228px,#2e3078 233px,#2e2f75 260px,#2f327d 268px,#2f317b 273px,#2e2f76 284px,#2f317a 285px)"></i><i class="ha" style="left:382px;width:9px;background:linear-gradient(#f0ea45 0px,#eae849 3px,#f4eb42 4px,#f3df3d 5px,#f2d338 7px,#f0b735 9px,#eeaa35 11px,#f0bd35 12px,#f1c035 13px,#efb635 15px,#f1c035 16px,#eca234 19px,#eca334 21px,#eca034 23px,#eeac35 25px,#f1c335 27px,#f4e53f 32px,#f4e640 34px,#f3e03d 35px,#f2cc35 36px,#ea9933 39px,#eca334 42px,#eead35 43px,#e99633 45px,#eb9e34 46px,#eb9d34 47px,#d7582e 50px,#d3462c 51px,#d13d2c 54px,#d3432c 55px,#e27d31 57px,#f0bd35 60px,#f2d137 62px,#f3d439 63px,#f2d137 66px,#f3db3b 68px,#f1c635 69px,#e99733 70px,#d44b2d 71px,#c1212c 72px,#7b1e22 73px,#7b1e22 100px,#be212c 101px,#d2402c 102px,#e27e31 103px,#f2d238 106px,#f3eb42 107px,#e7e74b 108px,#d4df56 109px,#b3cf76 110px,#91c8ac 111px,#81c7d7 112px,#74bde8 113px,#63a1e1 114px,#4f76c2 115px,#3f55a9 116px,#3c4ea3 118px,#3a4aa0 131px,#333d95 134px,#2f3079 137px,#2e2f75 141px,#2e2f76 164px,#2e3079 212px,#2f327e 219px,#2e2f77 220px,#2e3077 240px,#2e2f76 252px,#2e3078 279px,#2e3077 285px)"></i><i class="ha" style="left:390px;width:9px;background:linear-gradient(#e2e54e 0px,#c4d763 2px,#cadb5c 5px,#efea45 8px,#f3e03d 9px,#f2ce36 10px,#efb035 14px,#efb135 15px,#ea9933 18px,#eda735 19px,#eb9d34 22px,#efb335 25px,#f3d83a 29px,#f3df3d 30px,#f3d83a 34px,#eda535 36px,#e99533 38px,#eeaa35 39px,#f0bd35 42px,#f1c235 46px,#e99633 49px,#e27e31 50px,#d5512d 51px,#d13b2c 52px,#cf342c 53px,#cf342c 54px,#e17b31 57px,#efb335 59px,#f1c535 60px,#f3e03d 63px,#f3e33e 65px,#f3d739 66px,#f0bc35 67px,#e89333 68px,#d5512d 69px,#c9242c 70px,#881f26 71px,#7b1e22 72px,#7b1e22 98px,#b9202c 99px,#d23f2c 100px,#e48331 101px,#eb9d34 102px,#f1c435 103px,#f3e03e 104px,#f0ea45 105px,#e8e84a 106px,#d5e055 107px,#b2cf77 108px,#8ec8b4 109px,#7cc6e4 110px,#6db5ec 111px,#5b92d8 112px,#4a6ab8 113px,#4159ab 115px,#3d50a5 118px,#3b4ea3 122px,#35429a 131px,#2e2f77 136px,#2e2f76 159px,#2e3079 195px,#2f327d 202px,#2e2f76 204px,#2e3077 263px,#2e3078 274px,#2f327f 277px,#2e2f76 281px,#2f317b 285px)"></i><i class="ha" style="left:398px;width:9px;background:linear-gradient(#f0ea45 0px,#d6e154 4px,#dbe351 6px,#f4ea41 9px,#f3e03d 11px,#f1c635 15px,#e78c32 20px,#e58632 21px,#ea9a33 23px,#f0bb35 27px,#f2d037 29px,#f3d539 33px,#f0ba35 35px,#f0b835 37px,#f2cb35 38px,#f3d539 41px,#efb235 43px,#efaf35 45px,#e27f31 47px,#d75a2e 49px,#d75c2e 50px,#d5522d 51px,#d2412c 52px,#d03a2c 53px,#d13b2c 54px,#d2422c 55px,#d6532d 56px,#dc6d2f 57px,#eca234 58px,#f0ba35 59px,#f2d238 61px,#f3d539 64px,#f2c835 65px,#eeab35 66px,#e07830 67px,#cf352c 68px,#b1202c 69px,#7b1e22 70px,#7b1e22 96px,#c0212c 97px,#d7592e 98px,#eb9e34 99px,#f1c635 101px,#f3eb43 103px,#ece948 104px,#d1de58 105px,#a4cb8a 106px,#83c7d2 107px,#71bae9 108px,#629fdf 109px,#4765b4 111px,#445fb0 113px,#3d50a5 115px,#36429a 128px,#333c93 131px,#2e3078 134px,#2e2f76 142px,#2e3078 182px,#2e2f76 201px,#2f327d 204px,#2e2f76 208px,#2f317b 213px,#2e2f76 226px,#2e3079 233px,#2e2f75 252px,#2f307a 266px,#2e2f76 281px,#2e3079 285px)"></i><i class="ha" style="left:406px;width:8px;background:linear-gradient(#f3e33f 0px,#f2cb35 1px,#f0bf35 2px,#f2c835 4px,#f3e03e 5px,#f4eb42 6px,#f3dd3c 8px,#f4e941 9px,#f4eb42 10px,#f3e33f 12px,#f2c835 15px,#f0bf35 16px,#ea9833 18px,#e58732 20px,#e89133 22px,#eda835 27px,#eead35 28px,#f0b835 29px,#f0b835 30px,#eca234 32px,#e07730 34px,#e27e31 35px,#e78e32 36px,#efb335 37px,#f2cc35 38px,#f3e03e 40px,#f2ca35 42px,#f1c735 44px,#e89033 45px,#d9632e 46px,#d44c2d 48px,#d9622e 49px,#da672f 50px,#d5512d 51px,#d2422c 52px,#d8612e 55px,#e07930 56px,#ea9b34 57px,#efb635 58px,#f3d639 60px,#f4e540 62px,#f3e13e 63px,#f2cd35 64px,#eb9f34 65px,#d7592e 66px,#c9252c 67px,#811e24 68px,#7b1e22 70px,#7b1e22 94px,#bf212c 95px,#db692f 96px,#efb435 97px,#f3d739 99px,#f4e640 100px,#e7e74b 102px,#c2d665 103px,#94c8a5 104px,#77c1e6 105px,#6aafe9 106px,#5a8ed5 107px,#4a6ab8 108px,#435dae 109px,#39489f 120px,#38479e 126px,#333d94 129px,#2e3078 133px,#2f307a 137px,#2f317a 145px,#2e2e75 160px,#2e3079 177px,#2f317b 184px,#2e2e75 186px,#2e2f76 213px,#2e2f76 249px,#2e3078 253px,#2f317a 264px,#303380 267px,#2e2f76 275px,#2e3078 285px)"></i><i class="ha" style="left:413px;width:9px;background:linear-gradient(#eca134 0px,#e68a32 1px,#e78c32 3px,#f0be35 5px,#f0bd35 7px,#f3dc3c 8px,#f4e540 9px,#f4e43f 11px,#f3d639 13px,#f2d137 15px,#efb635 17px,#eeaa35 19px,#efb435 21px,#efb135 23px,#f0ba35 27px,#e99533 31px,#db682f 32px,#d44a2d 33px,#d4492d 34px,#d54f2d 35px,#e89333 36px,#efb435 37px,#f2d137 39px,#f2d237 43px,#efb435 45px,#ea9b34 48px,#e78e32 49px,#d75b2e 51px,#da662f 54px,#df7530 55px,#eeab35 57px,#f2d237 59px,#f3df3d 60px,#f4e53f 61px,#f3db3b 62px,#f0bd35 63px,#e58832 64px,#d03a2c 65px,#b5202c 66px,#7b1e22 67px,#7b1e22 92px,#c7222c 93px,#e68c32 94px,#f2ce36 95px,#f4e640 97px,#ece948 99px,#e3e64d 100px,#b4cf75 101px,#89c8c2 102px,#6cb4ec 103px,#5f9adc 104px,#445faf 106px,#435cad 108px,#3a4aa1 118px,#36449b 126px,#323a90 128px,#2f317a 131px,#2f317a 135px,#303483 138px,#303483 139px,#2e3077 141px,#2e3079 151px,#2e2f76 160px,#2e3079 171px,#2e2e75 179px,#2f317c 182px,#2e2f76 195px,#2e3079 199px,#2e2f77 207px,#2f317b 211px,#2e3077 217px,#2e3077 232px,#2f317a 235px,#2e2f76 240px,#2e2f76 263px,#2f327e 266px,#2e2f76 275px,#2e3078 280px,#2e3079 285px)"></i><i class="ha" style="left:421px;width:9px;background:linear-gradient(#eba034 0px,#eca034 2px,#f0b935 4px,#f0b935 6px,#f3d539 7px,#f3e13e 8px,#f3e13e 10px,#f2d338 12px,#f3d93a 14px,#eca434 16px,#eca134 18px,#f3da3b 19px,#f4eb42 20px,#f3e13e 22px,#efb535 25px,#e89133 27px,#e07930 28px,#d85f2e 30px,#d44c2d 31px,#d13e2c 32px,#d44a2d 34px,#e99433 36px,#f0b735 38px,#ea9933 40px,#eca134 42px,#f0bd35 44px,#eeab35 47px,#eca034 48px,#e78d32 49px,#de7330 50px,#d7592e 53px,#d75d2e 54px,#dd6f2f 55px,#eb9e34 57px,#f2ca35 59px,#f2d338 60px,#f1c335 61px,#eb9c34 62px,#d5522d 63px,#c8222c 64px,#7b1e22 65px,#7b1e22 90px,#c8232c 91px,#eca034 92px,#f2d237 93px,#f4e640 95px,#eee946 97px,#dae251 98px,#a9cc83 99px,#82c7d6 100px,#6eb6eb 101px,#5f99dc 102px,#4d72bf 103px,#445eaf 104px,#3b4ca2 114px,#37449c 123px,#2f307a 129px,#2e2f76 134px,#2f317a 139px,#2e2f76 155px,#2f307a 160px,#2e3078 178px,#2f327e 186px,#2e3078 194px,#2f327d 198px,#2e2e75 200px,#2e3078 207px,#2e3079 211px,#2e3079 222px,#2f327d 226px,#2e2f77 229px,#2f327e 234px,#2e2f76 237px,#2e3078 259px,#2e3078 285px)"></i><i class="ha" style="left:429px;width:9px;background:linear-gradient(#df7430 0px,#df7430 1px,#eb9d34 2px,#f1c335 3px,#f1c335 5px,#f3db3b 6px,#f4e53f 7px,#f4e640 9px,#f3df3d 10px,#f2d037 11px,#f3dc3c 13px,#f2ca35 15px,#f2d238 17px,#f3eb43 18px,#ede947 19px,#f4eb42 21px,#f3de3d 23px,#f1c435 25px,#eeaa35 26px,#e58732 27px,#d9632e 29px,#e17b31 33px,#eeac35 37px,#eeac35 38px,#eca234 39px,#eba034 40px,#e99733 41px,#e58732 42px,#d03a2c 45px,#cd2d2c 46px,#c6222c 49px,#cb292c 52px,#d3442c 54px,#d85e2e 55px,#e38131 56px,#efb535 58px,#f1c035 59px,#eeae35 60px,#e27f31 61px,#ce322c 62px,#9d202a 63px,#7b1e22 64px,#7b1e22 88px,#c2212c 89px,#e78f32 90px,#f2d338 91px,#f4ea42 93px,#ece947 95px,#dee450 96px,#adcd7f 97px,#82c7d4 98px,#68ade8 99px,#598dd5 100px,#4a6bb9 101px,#435dae 102px,#36429a 122px,#303482 126px,#2e2f77 129px,#2f3079 142px,#2e3079 146px,#2e2f76 157px,#2f317c 166px,#2f327f 169px,#2e2f76 172px,#2e2f76 194px,#2f327d 209px,#2e2f76 212px,#2e2f76 226px,#2e2f77 250px,#2e3079 261px,#2e2e75 265px,#2f317a 282px,#2f317c 285px)"></i><i class="ha" style="left:437px;width:8px;background:linear-gradient(#eca134 0px,#efb235 1px,#f2cb35 2px,#f2cb35 4px,#f3d639 6px,#f2d438 8px,#f1bf35 9px,#eda434 10px,#eca434 12px,#eeaa35 13px,#f3d639 16px,#eee946 17px,#e5e64c 18px,#f4e941 23px,#f2cd35 25px,#eda735 27px,#e78f32 29px,#e68b32 30px,#e99733 32px,#e99733 33px,#e27f31 34px,#e99433 36px,#e79033 37px,#e38131 38px,#e27e31 39px,#de7330 40px,#dc6d2f 42px,#d0392c 44px,#ca272c 45px,#b9202c 47px,#b4202c 48px,#c5222c 49px,#cf352c 51px,#d9632e 54px,#e27e31 55px,#e68c32 56px,#e78c32 57px,#e17a30 58px,#cd2c2c 60px,#ba202c 61px,#7b1e22 62px,#7b1e22 86px,#851f25 87px,#cf342c 88px,#f1c235 89px,#f3d83a 90px,#f3eb43 92px,#f1ea44 94px,#e6e74b 95px,#bbd26d 96px,#8bc8be 97px,#6cb4ec 98px,#5e97db 99px,#435daf 101px,#3e53a7 104px,#37459d 121px,#31378a 126px,#2e2f76 130px,#2e3078 149px,#2e3079 156px,#303381 159px,#2e2f76 173px,#2f317a 178px,#2e2f75 189px,#2e2f76 197px,#2f317a 200px,#2e2f76 217px,#2f317c 224px,#2e2f76 250px,#2e2f76 257px,#2e2f76 285px)"></i><i class="ha" style="left:444px;width:9px;background:linear-gradient(#f3dd3c 0px,#f3d93a 7px,#f2cd36 8px,#eeab35 9px,#e17c31 12px,#e07930 13px,#eca134 15px,#f2d137 16px,#f0ea45 17px,#efea46 20px,#f4ea42 22px,#f3e13e 23px,#f2d037 24px,#f0b735 25px,#e99633 27px,#d54e2d 29px,#d54f2d 30px,#d7582e 31px,#e27f31 32px,#eeae35 33px,#f1c335 35px,#f1c535 37px,#f0b835 39px,#ea9a33 40px,#d8602e 41px,#ce332c 43px,#ca262c 44px,#ba202c 46px,#b6202c 47px,#c2212c 48px,#cb292c 49px,#d4492d 51px,#d9622e 52px,#e38231 53px,#e99633 54px,#eb9d34 55px,#e89133 56px,#d2402c 58px,#c9242c 59px,#97202a 60px,#7b1e22 61px,#7b1e22 85px,#be212c 86px,#db6a2f 87px,#f2ce36 88px,#f4e640 90px,#f0ea45 92px,#efea46 93px,#e4e64c 94px,#bbd26c 95px,#8fc8b1 96px,#74bde8 97px,#67abe6 98px,#5a8fd6 99px,#4d71be 100px,#4661b1 101px,#3c4fa4 107px,#37469d 121px,#333d95 124px,#2f337f 127px,#2f317c 135px,#2e2f75 138px,#2f307a 143px,#2e2f76 149px,#2f3079 172px,#2f327d 179px,#2e2e74 182px,#2e2f75 184px,#2f317b 186px,#2e2e75 194px,#2f307a 200px,#2f337f 202px,#2e3079 212px,#2e3078 216px,#2f327d 218px,#2f327e 228px,#2e2f76 236px,#2e2f76 272px,#2f317a 280px,#2e3078 285px)"></i><i class="ha" style="left:452px;width:9px;background:linear-gradient(#f4e841 0px,#f4e841 2px,#f3e13e 3px,#f2cc35 4px,#f2c835 6px,#efb735 7px,#e99533 8px,#e58832 9px,#de7330 10px,#db6a2f 11px,#df7630 12px,#de7130 13px,#e17b31 14px,#f1c735 16px,#f3da3b 17px,#f4e640 18px,#f3eb42 20px,#f4e540 22px,#f3d93b 23px,#f0bf35 24px,#eca234 26px,#ea9933 27px,#e89233 29px,#e99633 30px,#eda835 31px,#f1c635 32px,#f3de3d 34px,#f3e23e 35px,#f2d338 38px,#f0bd35 39px,#e58632 40px,#da652f 41px,#d44b2d 42px,#d0382c 43px,#ca272c 45px,#cb272c 47px,#d3452c 49px,#df7430 51px,#e17a30 52px,#e89033 53px,#eb9d34 54px,#e89333 55px,#d0372c 57px,#bd212c 58px,#7b1e22 59px,#7b1e22 83px,#97202a 84px,#d0392c 85px,#efb535 86px,#f3d639 87px,#f3d93a 88px,#f4eb42 90px,#f2eb43 92px,#e9e84a 93px,#c3d764 94px,#95c8a3 95px,#75bee7 96px,#6aafe9 97px,#4764b4 100px,#425bad 103px,#3d51a6 105px,#37459d 121px,#343f98 123px,#2f317b 127px,#2e2f76 131px,#2e2f76 139px,#2f317a 142px,#2e2f75 147px,#2e3078 174px,#303482 177px,#2e3079 182px,#2f327e 186px,#2e2e75 189px,#2e2f76 211px,#2f317b 214px,#2e2f77 219px,#2f317a 223px,#2f327f 226px,#2e2f77 229px,#2e2f76 271px,#2f317b 274px,#2e2f75 284px,#2e2f75 285px)"></i><i class="ha" style="left:460px;width:9px;background:linear-gradient(#f3db3b 0px,#f3d93a 2px,#f2ce36 3px,#f2cc35 5px,#f1c535 6px,#efb535 7px,#eca334 9px,#eda535 11px,#e99533 12px,#e78c32 13px,#e89433 14px,#f2d338 17px,#f3df3d 18px,#f4e740 21px,#f3e13e 22px,#f2d338 23px,#f0b935 26px,#eda635 28px,#eda434 29px,#f1c335 31px,#f3df3d 34px,#f3eb43 35px,#f4e841 37px,#f2d237 38px,#ea9a33 39px,#d85e2e 41px,#d3462c 42px,#cc2a2c 44px,#cb272c 46px,#cc2b2c 47px,#d0372c 48px,#d85e2e 50px,#db6a2f 51px,#e48331 52px,#e68b32 53px,#e17b31 54px,#ca262c 56px,#8b1f27 57px,#7b1e22 58px,#7b1e22 82px,#bb202c 83px,#d5532d 84px,#f0b735 85px,#f2cc35 88px,#f4e43f 90px,#efea46 91px,#e2e54d 92px,#bed469 93px,#94c8a4 94px,#79c3e5 95px,#6cb4ec 96px,#5482cb 98px,#4866b5 99px,#435cae 101px,#3d51a6 105px,#3f54a8 106px,#445eaf 107px,#38469e 117px,#354099 123px,#2e3079 128px,#2e3079 134px,#2e2f77 138px,#2f317b 141px,#2e2e75 144px,#2e3077 174px,#2f327d 176px,#2e2f75 181px,#2e2f77 190px,#2e2f76 218px,#2e2f76 238px,#2f317a 242px,#2e2f76 254px,#2e2f76 270px,#2f317b 273px,#2e2e75 284px,#2e2e75 285px)"></i><i class="ha" style="left:468px;width:9px;background:linear-gradient(#f3df3d 0px,#f3eb43 2px,#f4e841 5px,#f3d83a 6px,#f2cd35 8px,#f1c135 9px,#e48431 12px,#e07830 13px,#e38031 14px,#eda534 16px,#f2d037 18px,#f3dc3c 20px,#f3db3b 21px,#f2d238 22px,#f2ce36 24px,#f1c635 25px,#efb335 26px,#eead35 28px,#f0bc35 29px,#f3d438 30px,#f3df3d 33px,#f4ea41 34px,#f4e43f 36px,#f3d639 37px,#f0ba35 38px,#e78f32 40px,#db692f 41px,#cf352c 42px,#cb282c 43px,#c3212c 45px,#ba202c 46px,#c9232c 48px,#ce312c 49px,#da662f 50px,#e58832 51px,#e78e32 52px,#e27d31 53px,#d3472c 54px,#bc212c 55px,#7b1e22 56px,#7b1e22 80px,#9e202a 81px,#ce312c 82px,#ea9b34 83px,#f2c835 84px,#f3eb43 89px,#ede947 90px,#e0e54f 91px,#bdd36a 92px,#96c9a1 93px,#7ec6de 94px,#6fb7eb 95px,#598dd4 97px,#4e74c0 98px,#4662b2 99px,#3d50a5 104px,#3e53a7 107px,#394aa0 114px,#35419a 122px,#2f317b 127px,#2e2f76 133px,#2e2f76 185px,#2f327d 187px,#2e2f76 198px,#2e3077 209px,#2e3078 232px,#2f307a 240px,#2e2e74 248px,#2e2f75 277px,#2e3078 281px,#2e2f75 285px)"></i><i class="ha" style="left:476px;width:8px;background:linear-gradient(#f3e23e 0px,#f4e43f 4px,#f3de3c 7px,#f3d639 8px,#efb635 9px,#e78d32 11px,#e27f31 12px,#e68c32 14px,#eeac35 16px,#f2cc35 18px,#f3d83a 20px,#f3d739 24px,#f1c635 25px,#f1c135 31px,#f2c935 32px,#f3db3b 33px,#f3d639 35px,#f1c135 37px,#ea9b34 39px,#e27d31 40px,#d44b2d 41px,#cf342c 42px,#c8222c 44px,#a5202b 45px,#a6202b 46px,#c9242c 48px,#d6542d 49px,#da652e 50px,#d7582e 51px,#c8222c 53px,#821f24 54px,#7b1e22 55px,#7b1e22 79px,#c6222c 80px,#d75b2e 81px,#f2c835 82px,#f4e941 86px,#eae849 89px,#dde350 90px,#bcd26c 91px,#97c9a0 92px,#81c7d8 93px,#6eb7eb 94px,#5a90d7 96px,#4967b6 98px,#4561b1 100px,#425aac 105px,#3b4ea3 112px,#38479e 120px,#333d94 123px,#2e2f76 126px,#2e3077 196px,#2f327d 199px,#2f317b 204px,#2e2f76 207px,#2e2f77 216px,#2e3077 224px,#2e3078 257px,#2e2f77 285px)"></i><i class="ha" style="left:483px;width:9px;background:linear-gradient(#f1c335 0px,#f0ba35 1px,#f0ba35 2px,#f1c235 3px,#f3dc3c 4px,#f3de3d 6px,#f3da3b 7px,#f0bd35 8px,#e68b32 11px,#e58732 12px,#e17c31 13px,#e27d31 14px,#e78e32 15px,#f0ba35 17px,#f2d037 19px,#f3da3b 21px,#f3dd3c 28px,#f3df3d 33px,#f3d438 35px,#eda535 38px,#e89033 39px,#d7592e 41px,#d3442c 42px,#c9242c 44px,#ca262c 46px,#cd2e2c 47px,#d5522d 49px,#d54e2d 50px,#cf362c 51px,#be212c 52px,#7b1e22 53px,#7b1e22 77px,#912029 78px,#cb282c 79px,#e48331 80px,#f2c935 81px,#f4eb42 85px,#eee946 88px,#e4e64c 89px,#c5d862 90px,#a2cb8d 91px,#87c8c7 92px,#74bde8 93px,#6bb1ea 94px,#5f9add 95px,#5078c4 96px,#4662b2 97px,#4158ab 98px,#435cae 101px,#37459d 121px,#333c93 123px,#303483 124px,#2e2f76 126px,#2e2f76 142px,#2e3078 171px,#2f317b 175px,#2e2f76 178px,#2e3079 187px,#2e2f76 191px,#2e3079 195px,#2e2e75 223px,#2f327e 230px,#2e2e75 233px,#2e2f76 244px,#2e2f76 283px,#2f317c 285px)"></i><i class="ha" style="left:491px;width:9px;background:linear-gradient(#f2d338 0px,#f0be35 2px,#f0ba35 4px,#f2ca35 6px,#efb635 9px,#eda635 11px,#e58632 13px,#e48331 14px,#f0ba35 19px,#f0b835 23px,#f2ce36 26px,#f3d539 30px,#f3da3b 31px,#f2c835 35px,#eda434 38px,#de7130 41px,#d6552d 43px,#d5522d 44px,#d75b2e 45px,#e17c31 47px,#dc6d2f 48px,#d3442c 49px,#c8222c 50px,#7b1e22 51px,#7b1e22 76px,#be212c 77px,#d3462c 78px,#eda735 79px,#f1c235 80px,#f4e941 85px,#ede947 87px,#e0e54f 88px,#c2d665 89px,#a1cb8f 90px,#89c8c2 91px,#75bee7 92px,#6db5ec 93px,#629fdf 94px,#5079c4 95px,#4662b2 96px,#3f55a9 97px,#3f54a8 102px,#4057aa 104px,#38469d 118px,#354199 121px,#333c93 122px,#2f307a 124px,#2e2e74 127px,#2e3077 147px,#2e2f77 167px,#2e3079 182px,#2e2f76 194px,#2f327c 197px,#2e2f76 200px,#2e3079 227px,#2e2f75 238px,#2e3079 242px,#2e2e75 251px,#2e3079 282px,#2f317b 285px)"></i><i class="ha" style="left:499px;width:9px;background:linear-gradient(#efb535 0px,#eda735 1px,#e07730 3px,#dc6c2f 4px,#e17a30 5px,#eca334 6px,#f0bd35 7px,#f1c635 8px,#f1c535 9px,#f0ba35 10px,#dd6e2f 14px,#de7330 15px,#e99433 17px,#eeaa35 18px,#eeaa35 19px,#ea9a34 21px,#eda835 24px,#f2d137 28px,#f3e23e 30px,#f3e13e 32px,#f1c535 36px,#efb235 39px,#eeaa35 44px,#eb9e34 45px,#e48532 46px,#d6532d 47px,#cb282c 48px,#9b202a 49px,#7b1e22 50px,#7b1e22 74px,#a1202b 75px,#cc2a2c 76px,#f2ce36 78px,#f4e43f 81px,#f0ea45 85px,#e6e74b 87px,#cadb5c 88px,#adcd7e 89px,#92c8a9 90px,#80c7da 91px,#76bfe7 92px,#6db5ec 93px,#5380ca 95px,#4a6bb9 96px,#4560b1 97px,#38479e 116px,#37459c 120px,#31388c 123px,#2e3078 126px,#2f307a 137px,#2e2e74 140px,#2e3078 157px,#2e2e75 166px,#2e2f75 173px,#2f317c 176px,#2e2f76 181px,#2f317c 189px,#2e2f77 202px,#2e3078 221px,#2e2f76 237px,#2f3079 241px,#2e3077 248px,#2e3078 269px,#2f327e 272px,#2e2f77 283px,#2e2f76 285px)"></i><i class="ha" style="left:507px;width:8px;background:linear-gradient(#f2d036 0px,#ea9933 1px,#dd6e2f 2px,#d6572d 3px,#d5502d 4px,#da672f 5px,#e58832 6px,#ea9a34 7px,#eead35 9px,#eda535 10px,#e17b31 12px,#d8612e 13px,#d75b2e 14px,#d9642e 15px,#df7630 16px,#dd7030 19px,#db6a2f 20px,#e68932 21px,#e78e32 22px,#e58832 23px,#e68a32 24px,#f0bd35 28px,#f3da3b 29px,#f4e841 30px,#f4e740 32px,#f2cb35 33px,#efb535 34px,#efaf35 36px,#f0bb35 37px,#f2c835 40px,#f3e23e 41px,#f3eb43 42px,#f4e53f 43px,#f2ca35 44px,#e78e32 45px,#d3442c 46px,#c3212c 47px,#7b1e22 48px,#7b1e22 73px,#c0212c 74px,#d2412c 75px,#ea9b34 76px,#f1c335 77px,#f3d438 80px,#f2cd35 81px,#f3d438 83px,#f0ea45 85px,#e9e84a 86px,#cedd5a 87px,#b3cf76 88px,#97c9a0 89px,#84c7cf 90px,#75bee7 91px,#6eb6eb 92px,#5d95da 94px,#4c6fbc 96px,#4865b4 98px,#3c4ea3 109px,#343f98 121px,#2e3079 126px,#2e2f77 148px,#2f317b 152px,#2e2e74 159px,#2e3079 188px,#2e2f76 192px,#2f317c 200px,#2e2f75 208px,#2f317a 220px,#2e2f75 223px,#2e3078 237px,#2e2f75 252px,#2f317c 255px,#2e2f76 264px,#2e2f76 285px)"></i><i class="ha" style="left:514px;width:9px;background:linear-gradient(#f0bd35 0px,#eb9c34 1px,#dd7030 3px,#eead35 6px,#f1c135 7px,#f2cc35 8px,#f2cb35 9px,#f1bf35 10px,#e48431 13px,#e27f31 14px,#e68a32 15px,#e99733 17px,#eca134 18px,#eca234 19px,#eeae35 20px,#e89333 23px,#f0b835 27px,#f2ce36 28px,#f3dd3c 29px,#f4e941 31px,#f2c935 33px,#f1c235 35px,#eeaa35 37px,#efaf35 39px,#f1c635 40px,#f2cb35 41px,#f0bc35 42px,#eb9d34 43px,#cc2a2c 45px,#9e202b 46px,#7b1e22 47px,#7b1e22 71px,#922029 72px,#c9242c 73px,#d6562d 74px,#eead35 75px,#f1c235 76px,#f3d93b 80px,#f4eb42 83px,#ebe948 85px,#d4e055 86px,#bbd26d 87px,#a1ca90 88px,#7ac4e5 90px,#69aee8 92px,#4866b5 96px,#455fb0 99px,#3c4fa4 101px,#3c4fa4 107px,#38489f 112px,#38479e 116px,#36439b 120px,#31378a 123px,#2f317b 126px,#2e2e75 145px,#2e2f76 152px,#2e2f75 167px,#2f327d 170px,#2e2f76 175px,#2e2f76 192px,#2e3078 207px,#2e2f75 239px,#2e3078 246px,#2e3079 252px,#2f317a 255px,#2e2e74 257px,#2f317a 267px,#2e2e75 274px,#2e3078 285px)"></i><i class="ha" style="left:522px;width:9px;background:linear-gradient(#f3d73a 0px,#f2ca35 1px,#eda534 3px,#eb9f34 4px,#eda735 5px,#f0ba35 6px,#f1c335 7px,#f1c135 9px,#efb535 10px,#dd6f2f 12px,#d85e2e 13px,#d75c2e 14px,#e68932 15px,#eda635 16px,#f0b835 17px,#f2cc35 19px,#f2c935 20px,#efaf35 22px,#eda735 25px,#eda635 27px,#eeab35 28px,#f2c935 31px,#f2cd35 33px,#f2cb35 34px,#efb035 36px,#efb235 38px,#f2c835 39px,#f3d539 40px,#f2d137 41px,#efb235 42px,#dd7030 43px,#c9252c 44px,#7b1e22 45px,#7b1e22 69px,#7f1e23 70px,#bf212c 71px,#d03a2c 72px,#e68a32 73px,#f1c735 74px,#f2d338 77px,#f4ea42 82px,#ebe849 84px,#d6e154 85px,#bed469 86px,#a8cc85 87px,#91c8aa 88px,#81c7d6 89px,#77c1e6 90px,#6db5eb 91px,#5481ca 94px,#4a6ab8 95px,#445eaf 96px,#3b4da3 106px,#36449c 120px,#2f327d 126px,#2f3079 135px,#2e3077 139px,#2e2f75 154px,#2e2f77 162px,#2e2f76 167px,#2e3077 171px,#2e2f76 203px,#2f317a 210px,#2e2e75 213px,#2e2f76 227px,#2e2f76 235px,#2e3078 239px,#2e3079 247px,#2f317c 254px,#2e2f76 257px,#2e2e75 285px)"></i><i class="ha" style="left:530px;width:9px;background:linear-gradient(#f3d93a 0px,#f2cc35 1px,#eda635 3px,#eb9d34 4px,#eda635 5px,#f2c935 7px,#f2d338 8px,#f2d338 9px,#eb9e34 12px,#e89333 13px,#eca234 14px,#f2ce36 16px,#f3e13e 17px,#f4e540 18px,#f3dd3c 20px,#f2d137 21px,#eda735 23px,#e89033 25px,#efb635 30px,#f1c435 33px,#f0bf35 37px,#efb535 38px,#eca134 39px,#e27f31 40px,#d4492d 41px,#c9242c 42px,#8b1f27 43px,#7b1e22 44px,#7b1e22 68px,#99202a 69px,#c9252c 70px,#d6532d 71px,#eca234 72px,#f1c335 73px,#f3d83a 77px,#f3da3b 79px,#f3eb43 82px,#f0ea45 83px,#e1e54e 84px,#cadb5d 85px,#accd80 86px,#90c8af 87px,#80c7d9 88px,#71bae9 89px,#69aee8 91px,#5a8fd6 93px,#4a6ab9 95px,#4662b2 97px,#3a4ca1 109px,#39499f 114px,#354199 120px,#2e2f77 126px,#2e2f76 154px,#2e3077 173px,#2e2f76 205px,#2e3078 213px,#2e2f77 237px,#2f317b 254px,#2e2f76 270px,#2e2f76 285px)"></i><i class="ha" style="left:538px;width:9px;background:linear-gradient(#f3e13e 0px,#f2d036 1px,#eca334 3px,#e99733 5px,#e99433 6px,#eda735 7px,#f1c335 9px,#f1c435 10px,#eda635 12px,#eca234 13px,#eea935 14px,#f0ba35 15px,#f2d237 16px,#f4e841 17px,#f0ea45 19px,#f2eb43 20px,#f4e540 21px,#f1c535 23px,#efb435 24px,#eda434 26px,#eda434 28px,#efb135 30px,#f1c335 32px,#f1c135 36px,#efae35 37px,#e68932 38px,#cd2d2c 40px,#b6202c 41px,#7b1e22 42px,#7b1e22 66px,#7f1e23 67px,#bc202c 68px,#cf362c 69px,#f1c735 71px,#f4e640 76px,#eee947 81px,#ebe849 82px,#dce351 83px,#c5d861 84px,#afce7c 85px,#97c9a0 86px,#87c8c9 87px,#76bfe7 88px,#6db5ec 89px,#5584ce 92px,#4e73c0 94px,#4764b4 95px,#3f54a8 99px,#3c4fa4 108px,#36439b 119px,#32398e 122px,#2f307a 125px,#2e2f75 136px,#2e3079 169px,#2f307a 176px,#2e2f75 182px,#2e3078 197px,#2e3078 201px,#2e3079 213px,#2e3078 229px,#2e2f76 240px,#2e2f77 265px,#2f317a 280px,#2e2f76 285px)"></i><i class="ha" style="left:546px;width:8px;background:linear-gradient(#f3e13e 0px,#f3dc3c 1px,#f2cb35 2px,#f0b935 3px,#e38231 5px,#eda635 7px,#f1c435 8px,#f2d238 9px,#f1c135 11px,#eeae35 13px,#efb435 14px,#f3da3b 16px,#f4e841 17px,#f3eb43 21px,#f2ce36 23px,#eda635 27px,#eb9f34 29px,#efb535 32px,#f0b735 34px,#eeab35 35px,#e68c32 36px,#d5512d 37px,#cd2e2c 38px,#bf212c 39px,#821f24 40px,#7b1e22 41px,#7b1e22 65px,#ae202b 66px,#cb282c 67px,#d6532d 68px,#ea9a34 69px,#f2ca35 70px,#f4e740 75px,#eee946 80px,#ebe948 81px,#e0e54e 82px,#cbdb5c 83px,#b6cf73 84px,#9dca96 85px,#7cc6e3 87px,#6bb2eb 89px,#5787d0 92px,#4968b6 94px,#4560b1 95px,#435dae 99px,#3d50a5 103px,#35419a 119px,#2e3079 124px,#2e2e75 139px,#2e2f76 156px,#2f317a 158px,#2e3078 176px,#2e2f76 199px,#2e3078 252px,#2e3079 259px,#2e2e74 267px,#2e3079 276px,#2e3079 284px,#2e3078 285px)"></i><i class="ha" style="left:553px;width:8px;background:linear-gradient(#f3dd3c 0px,#f2cb35 2px,#efb235 3px,#e48331 4px,#e58832 5px,#e89333 6px,#f1c235 7px,#f3e13e 8px,#f3e03d 10px,#f1c635 12px,#f1c535 13px,#f2ca35 14px,#f3eb43 16px,#ebe849 19px,#f4eb42 22px,#f1c335 24px,#ea9933 27px,#e89133 28px,#e89333 30px,#efb435 33px,#efb335 34px,#eb9d34 35px,#dc6d2f 36px,#cf342c 37px,#b5202c 38px,#7b1e22 39px,#7b1e22 64px,#b5202c 65px,#cb292c 66px,#d75d2e 67px,#eeab35 68px,#f1c735 69px,#f3e13e 74px,#f3e03e 76px,#f4ea42 78px,#e5e74c 81px,#d1de58 82px,#bcd36b 83px,#a4cb8a 84px,#8fc8b0 85px,#82c7d5 86px,#76bfe7 87px,#6cb4ec 89px,#598dd4 92px,#4c6fbc 94px,#4561b1 96px,#4057aa 102px,#3b4ca2 104px,#37449c 117px,#333c93 120px,#2f327e 123px,#2e2f76 130px,#2f317b 134px,#2f317a 139px,#2f327e 142px,#2e2f77 145px,#2e2f75 155px,#2e2f77 175px,#2e3079 183px,#2f327d 186px,#2e2f76 194px,#2e2f75 203px,#2e2f76 239px,#2f317b 241px,#2e2f76 246px,#2e2f75 275px,#2f317a 278px,#2e2f76 282px,#2f317a 285px)"></i><i class="hb" style="left:103px;width:4px;background:linear-gradient(#feffff 0px,#fffdfd 20px,#fffdfd 65px,#fffdfd 128px,#fffefe 146px,#fffefe 159px,#fffefd 272px,#0c0b12 273px,#0c0b12 275px,#fff 276px,#fff 282px,#4756af 283px,#4756af 286px)"></i><i class="hb" style="left:106px;width:9px;background:linear-gradient(#fff 0px,#fefdfc 101px,#fffffe 145px,#fefdfc 153px,#fefdfc 195px,#fff 268px,#0c0b12 269px,#0c0b12 276px,#fff 277px,#fff 282px,#b0b7e0 283px,#b0b7e0 286px)"></i><i class="hb" style="left:114px;width:10px;background:linear-gradient(#fffffe 0px,#fffffe 59px,#fffdfd 99px,#fefdfd 104px,#fefdfd 145px,#fcfcfe 237px,#f6f7fc 248px,#fcfcfe 255px,#a9b1dd 256px,#aab2dd 257px,#5262b7 258px,#5263b7 259px,#3a48a6 260px,#3a48a6 261px,#b0b7e0 262px,#b0b7e0 265px,#fff 266px,#fff 269px,#b0b7e0 270px,#b0b7e0 271px,#c21e2d 272px,#c21e2d 274px,#0c0b12 275px,#0c0b12 283px,#fff 284px,#fff 286px)"></i><i class="hb" style="left:123px;width:9px;background:linear-gradient(#fff 0px,#fffefd 57px,#fff 104px,#fcfcfe 225px,#e4e7f5 239px,#e5e8f6 243px,#7684c8 244px,#8a95d0 249px,#de6f70 250px,#de6d6e 251px,#c51e2d 252px,#c21e2d 254px,#0c0b12 255px,#0c0b12 262px,#fff 263px,#fff 269px,#4756af 270px,#4756af 273px,#fff 274px,#fff 277px,#0c0b12 278px,#0c0b12 286px)"></i><i class="hb" style="left:131px;width:9px;background:linear-gradient(#fff 0px,#fffefe 35px,#fefdfc 39px,#fefdfc 169px,#fffefd 175px,#fefeff 213px,#d1d6ee 232px,#848fcd 233px,#8c97d1 235px,#3c4aa7 236px,#4554ae 240px,#97a0d5 241px,#9ba4d6 242px,#acb3de 243px,#6776c2 244px,#fff 245px,#fff 255px,#c21e2d 256px,#c21e2d 258px,#0c0b12 259px,#0c0b12 267px,#3a48a6 268px,#3a48a6 269px,#fff 270px,#fff 273px,#4756af 274px,#4756af 278px,#fff 279px,#c21e2d 280px,#c21e2d 282px,#0c0b12 283px,#0c0b12 286px)"></i><i class="hb" style="left:139px;width:9px;background:linear-gradient(#fff 0px,#fefdfc 12px,#fffdfd 169px,#fdfdfe 203px,#dde0f2 216px,#d1d6ee 221px,#d7dcf0 223px,#6272c0 224px,#6c7bc4 227px,#e4e8f6 228px,#e7eaf7 229px,#9ca5d7 230px,#9fa8d8 231px,#b9c0e3 232px,#808dcc 233px,#808dcc 234px,#303891 235px,#303891 236px,#0c0b12 237px,#0c0b12 242px,#fff 243px,#fff 248px,#4756af 249px,#4756af 252px,#fff 253px,#fff 254px,#c21e2d 255px,#c21e2d 257px,#0c0b12 258px,#0c0b12 266px,#fff 267px,#fff 281px,#343f9a 282px,#0c0b12 283px,#0c0b12 286px)"></i><i class="hb" style="left:147px;width:10px;background:linear-gradient(#fff 0px,#fefdfc 20px,#fefdfc 34px,#fff 83px,#fefcfb 86px,#fefeff 105px,#fdfdfe 137px,#fefdfc 172px,#fefdfc 182px,#fcfdfe 191px,#dde1f3 205px,#d2d7ee 209px,#5b6cbd 210px,#8590ce 211px,#8f99d2 214px,#3c4ba8 215px,#8691ce 216px,#909ad2 219px,#acb3de 220px,#6776c2 221px,#6776c2 223px,#b0b7e0 224px,#b0b7e0 226px,#4d5db4 227px,#fff 228px,#fff 231px,#b0b7e0 232px,#b0b7e0 234px,#fff 235px,#c21e2d 236px,#fff 237px,#fff 238px,#0c0b12 239px,#0c0b12 244px,#343f9a 245px,#343f9a 246px,#fff 247px,#fff 249px,#b0b7e0 250px,#b0b7e0 252px,#4756af 253px,#4756af 257px,#fff 258px,#c21e2d 259px,#c21e2d 261px,#0c0b12 262px,#0c0b12 270px,#3a48a6 271px,#3a48a6 272px,#fff 273px,#fff 282px,#c21e2d 283px,#c21e2d 285px,#0c0b12 286px)"></i><i class="hb" style="left:156px;width:9px;background:linear-gradient(#fff 0px,#feffff 5px,#fefaf9 8px,#fefcfb 18px,#fcf5f3 21px,#fdf9f7 27px,#fefeff 29px,#fdfdfe 72px,#fafbfd 77px,#fffefe 82px,#fdf9f7 83px,#fdf8f6 90px,#fffefd 93px,#fdfefe 104px,#fef9f8 107px,#fdfdfe 111px,#fbfbfe 122px,#fffefe 127px,#fffefe 135px,#f9fafd 139px,#fffdfd 150px,#fffdfd 158px,#fefcfc 171px,#fdf9f7 176px,#fdfdfe 180px,#e5e8f6 189px,#d3d8ef 197px,#d5daf0 198px,#3946a4 199px,#3c4aa7 203px,#b0b7df 204px,#b5bce2 206px,#ebeef8 207px,#eef0f9 208px,#fff 209px,#fff 210px,#4d5db4 211px,#4d5db4 213px,#cc1f2e 214px,#cc1f2e 215px,#808dcc 216px,#808dcc 218px,#303891 219px,#303891 221px,#0c0b12 222px,#0c0b12 226px,#fff 227px,#3a48a6 228px,#b0b7e0 229px,#b0b7e0 237px,#fff 238px,#c21e2d 239px,#c21e2d 240px,#fff 241px,#0c0b12 242px,#0c0b12 250px,#fff 251px,#fff 257px,#4756af 258px,#4756af 261px,#fff 262px,#c21e2d 263px,#c21e2d 265px,#0c0b12 266px,#0c0b12 273px,#3a48a6 274px,#3a48a6 275px,#b0b7e0 276px,#b0b7e0 278px,#fff 279px,#fff 285px,#c21e2d 286px)"></i><i class="hb" style="left:164px;width:9px;background:linear-gradient(#fff 0px,#fff 4px,#fbf1ee 6px,#fbf1ee 8px,#fefbfa 10px,#fdfefe 17px,#fffefd 18px,#fcf4f2 19px,#fdf7f5 26px,#fff 28px,#fefeff 41px,#fff 49px,#fdf7f5 51px,#fdf7f5 53px,#fefeff 55px,#fefdfc 59px,#fefaf8 62px,#fcfdfe 68px,#fafafd 76px,#fffefe 81px,#fdf9f7 83px,#fefeff 103px,#fdf5f3 105px,#fdf5f3 107px,#fdfdfe 109px,#f9fafd 121px,#fefcfb 123px,#fcfdfe 135px,#f7f8fc 137px,#fff 149px,#fefaf9 151px,#fcfcfe 159px,#fcfdfe 170px,#edf0f9 176px,#dee2f3 180px,#d3d8ef 182px,#cbd0eb 186px,#ced3ed 187px,#5e6fbf 188px,#7280c6 194px,#9ba4d7 195px,#a1a9d9 197px,#b9c0e3 198px,#cc1f2e 199px,#303891 200px,#303891 208px,#b0b7e0 209px,#b0b7e0 211px,#4d5db4 212px,#4d5db4 213px,#fff 214px,#fff 215px,#b0b7e0 216px,#b0b7e0 219px,#fff 220px,#fff 222px,#0c0b12 223px,#0c0b12 231px,#fff 232px,#fff 240px,#b0b7e0 241px,#b0b7e0 242px,#fff 243px,#c21e2d 244px,#c21e2d 246px,#0c0b12 247px,#0c0b12 254px,#3a48a6 255px,#3a48a6 256px,#fff 257px,#d1313e 258px,#d1313e 261px,#fff 262px,#fff 265px,#b0b7e0 266px,#c21e2d 267px,#c21e2d 269px,#0c0b12 270px,#0c0b12 278px,#3a48a6 279px,#3a48a6 280px,#d1313e 281px,#d1313e 282px,#fff 283px,#fff 286px)"></i><i class="hb" style="left:172px;width:9px;background:linear-gradient(#fefeff 0px,#fefeff 3px,#fbeeea 5px,#fbeeea 7px,#fcf3f0 8px,#fefeff 9px,#fcfcfe 17px,#fdfdfe 22px,#fdfdfe 43px,#fffffe 48px,#fcf5f2 50px,#fdf8f6 53px,#fefeff 54px,#fefdfc 58px,#fdf7f5 59px,#fbfcfe 67px,#f7f8fc 70px,#fffefd 80px,#fdf6f3 81px,#fcf4f1 84px,#fefeff 86px,#fefdfc 102px,#fdf6f4 105px,#fef9f8 107px,#fefeff 108px,#f9f9fd 112px,#f5f6fc 116px,#f6f8fc 120px,#fefcfc 123px,#fdfdfe 134px,#f8f9fd 138px,#fffefe 141px,#fafafd 162px,#f1f3fa 168px,#dce0f2 174px,#d4d9ef 175px,#e89992 176px,#e5908b 179px,#3b49a7 180px,#4352ac 185px,#5263b7 186px,#303891 187px,#303891 188px,#b0b7e0 189px,#fff 190px,#fff 194px,#4d5db4 195px,#4d5db4 198px,#cc1f2e 199px,#cc1f2e 202px,#6776c2 203px,#6776c2 206px,#0c0b12 207px,#0c0b12 211px,#3a48a6 212px,#3a48a6 213px,#fff 214px,#fff 215px,#4756af 216px,#4756af 219px,#b0b7e0 220px,#b0b7e0 222px,#fff 223px,#c21e2d 224px,#c21e2d 226px,#0c0b12 227px,#0c0b12 234px,#fff 235px,#fff 244px,#d1313e 245px,#fff 246px,#c21e2d 247px,#c21e2d 249px,#0c0b12 250px,#0c0b12 252px,#343f9a 253px,#343f9a 257px,#0c0b12 258px,#fff 259px,#fff 261px,#d1313e 262px,#d1313e 265px,#b0b7e0 266px,#b0b7e0 269px,#fff 270px,#c21e2d 271px,#c21e2d 273px,#0c0b12 274px,#0c0b12 281px,#3a48a6 282px,#3a48a6 283px,#b0b7e0 284px,#b0b7e0 286px)"></i><i class="hb" style="left:180px;width:10px;background:linear-gradient(#fdfdfe 0px,#fefcfb 3px,#fcf1ee 4px,#fbf1ed 6px,#fcf5f2 7px,#fcfdfe 8px,#fbfbfe 12px,#fafbfd 21px,#f6f7fc 34px,#fefeff 43px,#fdf8f6 46px,#fefbfa 52px,#fbfcfe 56px,#fdfdfe 65px,#f5f7fc 68px,#fff 78px,#fefcfb 79px,#fbf0ec 80px,#faebe6 82px,#faebe6 83px,#fefeff 85px,#fefcfc 92px,#fcf4f2 94px,#fcf5f3 97px,#fefcfb 99px,#fdfdfe 110px,#f3f5fb 112px,#f4f5fb 119px,#fdfdfe 122px,#fff 133px,#f9fafd 137px,#fefdfc 141px,#fbfbfe 143px,#fffdfd 152px,#fdf6f4 157px,#fefeff 160px,#eef0f9 164px,#eef0f9 169px,#4150ab 170px,#e9ecf7 171px,#eef0f9 174px,#fff 175px,#fff 177px,#4d5db4 178px,#4d5db4 180px,#808dcc 181px,#cc1f2e 182px,#cc1f2e 184px,#303891 185px,#303891 193px,#fff 194px,#fff 196px,#4d5db4 197px,#4d5db4 198px,#323a94 199px,#323a94 203px,#fff 204px,#fff 205px,#c21e2d 206px,#fff 207px,#fff 208px,#343f9a 209px,#343f9a 210px,#0c0b12 211px,#0c0b12 216px,#3a48a6 217px,#3a48a6 218px,#fff 219px,#fff 223px,#4756af 224px,#4756af 227px,#d1313e 228px,#c21e2d 229px,#c21e2d 231px,#0c0b12 232px,#0c0b12 240px,#fff 241px,#fff 255px,#0c0b12 256px,#0c0b12 263px,#3a48a6 264px,#3a48a6 265px,#b0b7e0 266px,#b0b7e0 269px,#d1313e 270px,#d1313e 273px,#fff 274px,#fff 275px,#c21e2d 276px,#c21e2d 278px,#0c0b12 279px,#0c0b12 286px)"></i><i class="hb" style="left:189px;width:9px;background:linear-gradient(#fefeff 0px,#fffefe 2px,#fdf7f5 3px,#fdf7f6 6px,#fdfefe 7px,#fcfcfe 11px,#fcfcfe 20px,#f5f7fc 29px,#f2f4fb 33px,#fefeff 41px,#fefbfa 43px,#fdf7f6 46px,#fefeff 48px,#fbfcfe 56px,#f9fafd 65px,#f8f9fd 69px,#fff 72px,#fff 78px,#fcf2ee 80px,#fefaf9 91px,#fdf8f6 100px,#fffefe 103px,#f6f7fc 118px,#fcfdfe 122px,#fefdfc 124px,#fdf8f6 126px,#fdf7f6 132px,#fbfcfe 133px,#f7f8fc 137px,#f3f5fb 142px,#f4f6fb 146px,#fafafd 148px,#fafbfd 150px,#fefaf9 151px,#fbf1ed 152px,#fcf2ef 158px,#fdf6f3 159px,#fefeff 160px,#fafbfd 162px,#fff 163px,#2f368e 164px,#2b3084 165px,#2b2e7f 168px,#272868 169px,#25255a 170px,#303891 171px,#b0b7e0 172px,#b0b7e0 173px,#4d5db4 174px,#4d5db4 180px,#808dcc 181px,#cc1f2e 182px,#cc1f2e 185px,#303891 186px,#303891 189px,#6776c2 190px,#0c0b12 191px,#0c0b12 194px,#323a94 195px,#323a94 198px,#4756af 199px,#4756af 202px,#323a94 203px,#b0b7e0 204px,#b0b7e0 205px,#fff 206px,#c21e2d 207px,#c21e2d 209px,#0c0b12 210px,#0c0b12 217px,#fff 218px,#fff 219px,#b0b7e0 220px,#b0b7e0 223px,#fff 224px,#fff 227px,#b0b7e0 228px,#fff 229px,#c21e2d 230px,#c21e2d 232px,#0c0b12 233px,#0c0b12 241px,#fff 242px,#fff 253px,#c21e2d 254px,#c21e2d 256px,#0c0b12 257px,#0c0b12 264px,#3a48a6 265px,#3a48a6 266px,#b0b7e0 267px,#b0b7e0 269px,#fff 270px,#fff 276px,#c21e2d 277px,#c21e2d 279px,#0c0b12 280px,#0c0b12 286px)"></i><i class="hb" style="left:197px;width:9px;background:linear-gradient(#fdfdfe 0px,#fbfbfe 9px,#fefeff 16px,#f7f8fc 28px,#f0f2fa 30px,#f4f5fb 33px,#fffefe 46px,#fdfdfe 55px,#fefbf9 59px,#fdfdfe 60px,#f7f8fc 68px,#fcfdfe 72px,#f8f9fd 77px,#fff 82px,#fbf0ec 83px,#faece7 85px,#faece7 86px,#fdf8f6 88px,#fefaf9 91px,#fdfdfe 93px,#fdfefe 95px,#fbf1ee 97px,#fcf3ef 100px,#fdf8f7 102px,#fefaf8 113px,#fdfdfe 114px,#fafbfd 118px,#fffdfd 123px,#fdf6f4 124px,#fdf6f4 126px,#fcf3f0 127px,#f9e8e2 128px,#f8e6df 131px,#fefeff 133px,#f1f3fa 144px,#f5f6fc 149px,#fdfdfe 150px,#fcf4f1 151px,#fcf4f1 152px,#2c3188 153px,#2f358e 159px,#2e348c 163px,#2b2f82 165px,#2b2f82 167px,#282a6e 169px,#282a6e 170px,#303891 171px,#303891 177px,#fff 178px,#fff 180px,#4d5db4 181px,#fff 182px,#fff 185px,#5a6bbd 186px,#5a6bbd 189px,#fff 190px,#fff 191px,#0c0b12 192px,#0c0b12 200px,#323a94 201px,#323a94 203px,#b0b7e0 204px,#b0b7e0 206px,#4756af 207px,#4756af 210px,#fff 211px,#fff 215px,#0c0b12 216px,#0c0b12 223px,#3a48a6 224px,#3a48a6 225px,#fff 226px,#d1313e 227px,#b0b7e0 228px,#b0b7e0 231px,#fff 232px,#fff 235px,#c21e2d 236px,#c21e2d 238px,#0c0b12 239px,#0c0b12 247px,#fff 248px,#fff 252px,#b0b7e0 253px,#b0b7e0 257px,#fff 258px,#fff 259px,#c21e2d 260px,#c21e2d 262px,#0c0b12 263px,#0c0b12 270px,#3a48a6 271px,#3a48a6 272px,#fff 273px,#d1313e 274px,#d1313e 278px,#b0b7e0 279px,#b0b7e0 282px,#c21e2d 283px,#c21e2d 285px,#0c0b12 286px)"></i><i class="hb" style="left:205px;width:10px;background:linear-gradient(#f9fafd 0px,#ebeef8 2px,#ebedf8 4px,#f6f7fc 6px,#fbfcfe 10px,#fafbfd 27px,#f3f5fb 30px,#fafafd 45px,#fefeff 49px,#f8f9fd 52px,#f9fafd 62px,#f2f4fb 66px,#f6f7fc 72px,#f2f3fb 76px,#f8f9fd 81px,#fefaf9 82px,#fcf2ee 83px,#fcf1ee 85px,#fef9f8 87px,#fefaf9 90px,#fdfefe 92px,#fdfefe 94px,#fefbfa 95px,#fbf1ed 96px,#fcf2ef 99px,#fefcfb 100px,#fff 103px,#fefbfa 108px,#fcf5f2 110px,#fffdfd 118px,#fefcfc 126px,#f8e3dc 127px,#f6dad1 128px,#f6dad1 130px,#f9e8e2 132px,#faece7 135px,#fefbf9 136px,#fefeff 138px,#f9fafd 140px,#3a47a5 141px,#3c4aa7 144px,#4756af 145px,#4b5bb3 147px,#4b5bb2 148px,#3744a0 149px,#303790 150px,#313993 162px,#2f368e 167px,#2d338b 168px,#2f368f 169px,#808dcc 170px,#808dcc 171px,#6776c2 172px,#6776c2 175px,#fff 176px,#fff 181px,#5a6bbd 182px,#5a6bbd 189px,#323a94 190px,#323a94 195px,#0c0b12 196px,#0c0b12 203px,#fff 204px,#fff 215px,#c21e2d 216px,#c21e2d 218px,#0c0b12 219px,#0c0b12 227px,#fff 228px,#fff 231px,#4756af 232px,#4756af 236px,#fff 237px,#fff 240px,#c21e2d 241px,#c21e2d 242px,#0c0b12 243px,#0c0b12 250px,#fff 251px,#fff 265px,#0c0b12 266px,#0c0b12 269px,#343f9a 270px,#343f9a 273px,#0c0b12 274px,#3a48a6 275px,#3a48a6 276px,#b0b7e0 277px,#b0b7e0 278px,#fff 279px,#fff 286px)"></i><i class="hb" style="left:214px;width:9px;background:linear-gradient(#f2f4fb 0px,#eaedf8 1px,#edeff9 4px,#f3f5fb 6px,#f8f9fd 13px,#fcfdfe 16px,#fefaf8 20px,#fefaf9 26px,#f7f8fc 28px,#eceef8 44px,#f4f5fb 47px,#f2f4fb 57px,#fbfcfe 60px,#fbfbfe 62px,#f3f4fb 65px,#f8f9fd 71px,#ebeef8 73px,#eff1f9 76px,#f4f6fb 80px,#fefdfc 82px,#fef9f8 85px,#fcf3f1 87px,#fcf2ee 93px,#fefbfa 95px,#fcfcfe 99px,#fbfcfe 103px,#fefdfc 108px,#fdf8f6 112px,#fcf2ef 113px,#fbf1ed 116px,#faebe5 119px,#faebe5 120px,#fcf2ee 121px,#fffefe 122px,#fefdfc 125px,#f8e4de 126px,#f5d8cf 127px,#f5d8cf 128px,#e5e8f6 129px,#b4bbe1 130px,#7c89ca 131px,#4c5bb3 132px,#3743a0 133px,#323a94 134px,#303790 138px,#3743a0 140px,#3845a2 143px,#4a59b1 145px,#4a59b1 147px,#3947a4 148px,#323a94 149px,#333d97 161px,#3845a2 165px,#3d4ba8 166px,#5a6bbd 168px,#303891 169px,#303891 173px,#5a6bbd 174px,#5a6bbd 177px,#303891 178px,#303891 185px,#5a6bbd 186px,#5a6bbd 187px,#6776c2 188px,#6776c2 189px,#4756af 190px,#4756af 194px,#6776c2 195px,#6776c2 198px,#0c0b12 199px,#0c0b12 207px,#3a48a6 208px,#fff 209px,#fff 215px,#b0b7e0 216px,#b0b7e0 218px,#fff 219px,#c21e2d 220px,#c21e2d 222px,#0c0b12 223px,#0c0b12 230px,#fff 231px,#fff 240px,#4756af 241px,#fff 242px,#fff 245px,#0c0b12 246px,#0c0b12 254px,#3a48a6 255px,#fff 256px,#fff 269px,#343f9a 270px,#343f9a 273px,#0c0b12 274px,#0c0b12 277px,#3a48a6 278px,#fff 279px,#4756af 280px,#4756af 282px,#b0b7e0 283px,#b0b7e0 286px)"></i><i class="hb" style="left:222px;width:9px;background:linear-gradient(#f1f3fa 0px,#f4f6fb 12px,#fdfefe 14px,#fff 25px,#f7f8fc 28px,#ebeef8 39px,#e4e7f5 41px,#e5e8f6 43px,#f4f5fb 45px,#fbfbfe 52px,#f8f9fd 56px,#fff 58px,#fefaf9 61px,#fefeff 62px,#fefeff 70px,#eff1fa 72px,#f6f8fc 79px,#fcfcfe 80px,#fef9f8 82px,#fcf4f2 88px,#f9e9e3 90px,#f9e8e2 92px,#faede8 93px,#fefcfb 94px,#fff 96px,#fdfdfe 103px,#fdfdfe 111px,#fdf6f4 112px,#fcf3f0 115px,#f5d7ce 117px,#f6dbd2 120px,#faeae4 121px,#faede9 123px,#faede8 124px,#f5d6cd 126px,#f5d6cd 127px,#ced4ed 128px,#98a2d5 129px,#5a6bbd 130px,#3b49a7 131px,#2f358e 133px,#313993 138px,#36419d 139px,#3845a2 146px,#36429e 147px,#303891 148px,#2f378f 152px,#303790 160px,#fff 161px,#fff 164px,#5a6bbd 165px,#5a6bbd 168px,#303891 169px,#303891 173px,#fff 174px,#fff 177px,#5a6bbd 178px,#5a6bbd 185px,#0c0b12 186px,#0c0b12 187px,#fff 188px,#fff 194px,#323a94 195px,#323a94 198px,#6776c2 199px,#c21e2d 200px,#c21e2d 202px,#343f9a 203px,#343f9a 206px,#0c0b12 207px,#0c0b12 210px,#3a48a6 211px,#3a48a6 212px,#fff 213px,#fff 223px,#c21e2d 224px,#c21e2d 225px,#0c0b12 226px,#0c0b12 234px,#fff 235px,#fff 236px,#b0b7e0 237px,#b0b7e0 240px,#fff 241px,#fff 246px,#c21e2d 247px,#c21e2d 248px,#fff 249px,#0c0b12 250px,#0c0b12 257px,#fff 258px,#fff 265px,#d1313e 266px,#d1313e 269px,#c21e2d 270px,#c21e2d 272px,#0c0b12 273px,#0c0b12 281px,#fff 282px,#fff 286px)"></i><i class="hb" style="left:230px;width:9px;background:linear-gradient(#f5f6fc 0px,#f6f7fc 11px,#fafbfd 15px,#f3f4fb 18px,#eff1fa 42px,#f9fafd 44px,#fbfcfe 47px,#fcf4f2 49px,#fcf5f3 52px,#fdf6f3 56px,#fbefeb 59px,#fcf3f0 61px,#fdf9f7 62px,#fefbfa 65px,#f6f7fc 68px,#f6f7fc 74px,#fdfdfe 75px,#fefbfa 78px,#f7e2da 80px,#f7dfd7 82px,#f8e2db 83px,#fcf5f2 84px,#fefdfc 85px,#fdf8f7 88px,#fbf1ee 92px,#fbefea 96px,#fdf9f7 98px,#fdf8f7 101px,#fffefe 102px,#fafbfd 110px,#faece7 112px,#fbeee9 114px,#f5d6cc 116px,#f5d8ce 119px,#f8e4dd 120px,#faeae5 121px,#faeae5 123px,#f6dbd2 125px,#e3e6f5 126px,#b4bbe1 127px,#7986c9 128px,#4b5bb2 129px,#3744a0 130px,#2d338b 132px,#2d3289 133px,#303790 137px,#36419d 139px,#36419d 141px,#303790 143px,#2f368f 146px,#2b2f82 148px,#2b2f82 150px,#2e348c 153px,#2f368f 156px,#3a47a5 159px,#4f60b5 160px,#9ea6d8 162px,#dbdff2 164px,#f6f7fc 165px,#f3f5fb 169px,#4756af 170px,#fff 171px,#fff 174px,#e38582 175px,#e38582 180px,#cc1f2e 181px,#cc1f2e 187px,#4756af 188px,#4756af 193px,#fff 194px,#fff 198px,#e38582 199px,#e38582 204px,#cc1f2e 205px,#cc1f2e 211px,#4756af 212px,#4756af 217px,#fff 218px,#fff 221px,#e38582 222px,#e38582 227px,#cc1f2e 228px,#cc1f2e 234px,#4756af 235px,#4756af 240px,#fff 241px,#fff 245px,#e38582 246px,#e38582 251px,#cc1f2e 252px,#cc1f2e 258px,#4756af 259px,#4756af 264px,#fff 265px,#fff 268px,#e38582 269px,#e38582 274px,#cc1f2e 275px,#cc1f2e 281px,#4756af 282px,#4756af 286px)"></i><i class="hb" style="left:238px;width:10px;background:linear-gradient(#f6f7fc 0px,#fdfdfe 6px,#fefbfa 9px,#fafbfd 13px,#f6f7fc 15px,#edf0f9 16px,#ebeef8 19px,#f1f3fa 23px,#e6e9f6 26px,#e5e8f6 32px,#f2f4fb 34px,#fafafd 46px,#fefbfa 47px,#fbf0ed 48px,#fcf2ee 51px,#fdf6f4 53px,#fbf0ec 59px,#fbfcfe 61px,#fafbfd 64px,#e7eaf6 66px,#e7eaf7 68px,#f5f6fc 70px,#f8f9fd 73px,#fbefeb 74px,#f6dad1 75px,#f6dbd2 82px,#fdf6f3 83px,#fcfcfe 84px,#fcfcfe 87px,#f9fafd 90px,#fffefe 92px,#fdf6f3 93px,#faece7 96px,#f8e3dc 98px,#f8e3dc 100px,#fbf1ed 104px,#fcf3f0 107px,#fdf8f6 109px,#f9e9e4 110px,#f7e1d9 111px,#faebe6 117px,#faece7 118px,#fdf8f7 120px,#fdf8f7 123px,#e6e9f6 124px,#c4cae8 125px,#98a1d5 126px,#6372c0 127px,#4655af 128px,#3845a2 129px,#2e348b 133px,#2f368e 137px,#303790 140px,#2d338b 141px,#292c75 142px,#292b71 144px,#2a2e7c 148px,#2b2f7f 150px,#313a94 153px,#36419d 154px,#4352ac 155px,#5d6ebe 156px,#b0b7df 158px,#eef0f9 160px,#fcf2ee 161px,#fcf3ef 163px,#fefcfb 164px,#fafbfd 168px,#f4f5fb 169px,#bbc2e4 170px,#bbc2e4 176px,#f8f8fc 177px,#f8f8fc 185px,#eeb3a8 186px,#eeb3a8 192px,#bbc2e4 193px,#bbc2e4 199px,#f8f8fc 200px,#f8f8fc 208px,#eeb3a8 209px,#eeb3a8 216px,#bbc2e4 217px,#bbc2e4 223px,#f8f8fc 224px,#f8f8fc 232px,#eeb3a8 233px,#eeb3a8 239px,#bbc2e4 240px,#bbc2e4 246px,#f8f8fc 247px,#f8f8fc 255px,#eeb3a8 256px,#eeb3a8 263px,#bbc2e4 264px,#bbc2e4 270px,#f8f8fc 271px,#f8f8fc 279px,#eeb3a8 280px,#eeb3a8 286px)"></i><i class="hb" style="left:247px;width:9px;background:linear-gradient(#f8f9fd 0px,#fbfcfe 5px,#fdf6f4 7px,#fdf7f5 9px,#fefeff 10px,#f6f7fc 14px,#eaecf8 16px,#eef0f9 22px,#eaedf8 23px,#dfe3f3 24px,#d6dbf0 31px,#dce0f2 32px,#edeff9 33px,#f6f7fc 40px,#f6f7fc 45px,#fdfefe 46px,#fcf3ef 47px,#fcf3f0 50px,#fdf9f7 52px,#fdf8f6 54px,#fbefeb 56px,#fbeeea 58px,#fbfbfe 60px,#f9fafd 63px,#eef0f9 65px,#f1f3fa 68px,#f9fafd 70px,#fafbfd 72px,#f8e5df 73px,#f2c9bf 74px,#f2c7bd 76px,#f3ccc2 77px,#f6dad1 78px,#f6dcd3 80px,#f6dbd2 81px,#fcf4f1 82px,#fafbfd 83px,#fafbfd 86px,#f2f4fb 87px,#f4f6fb 90px,#fcfdfe 91px,#fcf4f1 92px,#faede9 94px,#f8e3dc 95px,#f4cfc6 96px,#f3cbc1 98px,#f4d2c9 100px,#f8e3db 104px,#f7dfd7 105px,#fcf4f1 113px,#fefdfc 115px,#fefaf9 118px,#fdf8f6 121px,#fefdfc 122px,#cdd3ec 123px,#aab1dd 124px,#5566ba 126px,#3a48a6 128px,#343f9a 131px,#2f368f 132px,#2c3186 140px,#2b2f7f 142px,#2b2f80 144px,#303892 148px,#3946a3 150px,#4b5ab2 151px,#6c7bc4 152px,#9ca5d7 153px,#c2c8e7 154px,#e0e3f4 155px,#fdf7f5 156px,#fdf8f6 157px,#fcf3f0 158px,#f8e3dc 159px,#f7e0d8 161px,#f7e1d9 162px,#faebe6 164px,#faece7 166px,#fcf5f2 167px,#f8f9fd 168px,#eff2fa 175px,#fefeff 178px,#fefeff 180px,#f2f4fb 182px,#f5f6fc 194px,#eef0f9 197px,#eef0f9 198px,#fcfdfe 200px,#f7f8fc 210px,#f7f8fc 286px)"></i><i class="hb" style="left:255px;width:9px;background:linear-gradient(#fcf3f0 0px,#fdfdfe 1px,#f7f8fc 9px,#f0f2fa 15px,#eff1fa 17px,#e4e7f5 19px,#dde1f3 23px,#d8dcf1 27px,#d3d8ef 30px,#d5daf0 31px,#e3e6f5 33px,#e3e6f5 35px,#eff1fa 37px,#edeff9 44px,#fcfdfe 46px,#fefeff 49px,#fcf2ef 51px,#fcf2ee 53px,#f8e5df 55px,#f9e7e0 58px,#fdf7f5 59px,#fff 60px,#fbfbfe 63px,#f5f6fc 64px,#f8f9fd 71px,#fbeee9 72px,#f2c6bc 73px,#f1c2b7 76px,#f3cbc1 78px,#f2c8be 80px,#f5d7ce 81px,#fcf2ee 82px,#faede8 85px,#fefaf9 86px,#fffefe 87px,#fcf5f2 89px,#f3cbc1 91px,#efb8ae 96px,#f0bcb2 98px,#f3cfc5 100px,#f6dbd2 103px,#f6dbd2 105px,#f8e3db 107px,#fcf3ef 108px,#fcfcfe 109px,#fafbfd 112px,#fff 113px,#fefaf9 114px,#fefbfa 116px,#faece7 118px,#faece7 120px,#e4e7f5 121px,#929cd3 123px,#6171c0 124px,#4655ae 125px,#3947a4 126px,#323a94 133px,#303891 139px,#353f9a 144px,#3743a0 145px,#404faa 146px,#5667ba 147px,#a8b0dc 149px,#cbd0eb 150px,#e7eaf6 151px,#fdf9f7 152px,#fffefe 157px,#fcf2ee 158px,#faede9 159px,#fefaf8 164px,#fffdfd 166px,#f4f5fb 168px,#f4f5fb 175px,#fdfdfe 177px,#fafbfd 180px,#f4f6fb 184px,#e4e8f6 186px,#ebeef8 193px,#f3f5fb 195px,#f6f7fc 198px,#fafafd 202px,#f4f6fb 206px,#f4f6fb 286px)"></i><i class="hb" style="left:263px;width:9px;background:linear-gradient(#fdf9f8 0px,#fff 1px,#fefeff 3px,#f4f5fb 5px,#f1f3fa 8px,#e9ebf7 10px,#e9ebf7 12px,#f5f6fc 14px,#f1f3fa 17px,#e8ebf7 18px,#dee2f3 29px,#e5e8f6 31px,#eceef8 35px,#f2f4fb 37px,#f2f3fb 39px,#e5e8f6 41px,#e5e8f6 43px,#f6f7fc 45px,#f9fafd 48px,#fefcfc 49px,#fbf0ec 50px,#faece7 53px,#f8e5df 54px,#f8e4dd 57px,#fdf5f3 58px,#fefeff 59px,#fefeff 61px,#f0f2fa 63px,#f0f2fa 70px,#fafbfd 71px,#f5d7ce 72px,#f3cfc5 73px,#f3cbc1 75px,#efb8ae 77px,#eeb4a9 79px,#f0bdb2 80px,#f4d4ca 81px,#f4d2c8 83px,#f3cfc5 84px,#f4d2c8 86px,#f2c9bf 88px,#f0beb4 89px,#ecaca2 90px,#eba69d 93px,#f0bdb2 95px,#f3cbc1 98px,#f8e5df 101px,#faece7 102px,#faebe6 104px,#fdfdfe 107px,#f3f5fb 108px,#edeff9 111px,#f4f5fb 113px,#f2f4fb 119px,#bbc2e4 120px,#939dd3 121px,#6272c0 122px,#4655ae 123px,#3844a1 124px,#333c97 126px,#343f9a 138px,#3946a4 140px,#5465b9 142px,#707fc6 143px,#b4bbe1 145px,#d1d6ee 146px,#f7f8fc 148px,#f4f5fb 161px,#fcfcfe 169px,#f7f8fc 174px,#f7f8fc 179px,#f1f3fa 183px,#d6daf0 185px,#d6daf0 187px,#dbdff2 188px,#e6e9f6 189px,#e9ecf7 192px,#f8f9fd 194px,#f9fafd 286px)"></i><i class="hb" style="left:271px;width:10px;background:linear-gradient(#fefeff 0px,#fefeff 2px,#eceef8 4px,#eaecf8 7px,#e3e6f5 9px,#e3e6f5 11px,#f6f8fc 13px,#f5f6fc 16px,#eceff9 18px,#e2e5f5 29px,#fbfcfe 31px,#fbfcfe 38px,#ebedf8 40px,#ebedf8 42px,#eff1fa 43px,#fafbfd 44px,#fefeff 47px,#fcf3f0 49px,#fbf0ec 52px,#f9e6e0 53px,#f8e3dc 56px,#fdf8f6 57px,#f9fafd 58px,#f7f8fc 61px,#eceef8 63px,#eff1fa 69px,#f4f6fb 70px,#fcf3ef 71px,#f9e6e0 72px,#f7e2da 74px,#f0beb3 76px,#efb8ad 78px,#f0bcb2 79px,#f4d2c8 80px,#f5d5cc 81px,#eba69d 90px,#eba79e 92px,#efb7ac 93px,#f2cac0 94px,#f5d6cc 96px,#f7e1da 97px,#fef9f8 98px,#fbfcfe 99px,#f3f4fb 101px,#f4f5fb 103px,#e1e4f4 106px,#959fd4 115px,#8591ce 117px,#6978c3 118px,#4857b0 120px,#3a47a5 121px,#303790 125px,#313993 129px,#3947a4 135px,#4c5cb3 137px,#596abd 138px,#9da6d7 141px,#bcc2e5 143px,#d5daf0 148px,#e8ebf7 153px,#eaecf8 155px,#d9ddf1 157px,#d8dcf1 159px,#dde0f2 160px,#edf0f9 161px,#f2f3fb 164px,#fbfbfe 165px,#fcf3f0 166px,#fcf2ef 168px,#fcfcfe 170px,#f7f8fc 178px,#eaedf8 180px,#eaedf8 182px,#d2d7ee 184px,#d2d7ee 186px,#d8dcf1 187px,#edeff9 188px,#f3f4fb 190px,#f2f4fb 200px,#fbfcfe 202px,#fcfcfe 286px)"></i><i class="hb" style="left:280px;width:9px;background:linear-gradient(#fbf1ed 0px,#fbf1ed 1px,#fbfcfe 2px,#edeff9 3px,#eaedf8 6px,#e1e5f4 8px,#e1e5f4 10px,#f8f9fd 12px,#f7f8fc 15px,#e7eaf7 17px,#e8ebf7 24px,#e1e5f4 27px,#e1e5f4 28px,#f1f3fa 29px,#fdf8f6 30px,#fcf3ef 37px,#fcfcfe 38px,#f0f2fa 39px,#f3f4fb 42px,#fdf6f4 43px,#f8e6df 44px,#f7e0d8 51px,#f5d9d0 53px,#f5d9d0 55px,#f9e9e4 56px,#fefeff 57px,#fcfdfe 60px,#f3f5fb 62px,#f8f9fd 69px,#fdf7f5 70px,#faebe6 71px,#f9e7e1 73px,#f5d6cd 75px,#f3cfc5 78px,#f6dbd2 79px,#f7dfd7 80px,#f5d4cb 82px,#efb8ad 84px,#ecaca2 88px,#edb0a6 91px,#f5d7ce 95px,#f8e5de 96px,#fdfefe 97px,#e7e9f6 100px,#e3e6f5 102px,#b7bee3 106px,#808ccc 110px,#5a6bbd 113px,#3c4aa7 118px,#343e99 126px,#3a48a6 132px,#5666ba 136px,#959fd4 141px,#cdd2ec 148px,#e6e9f6 152px,#eaedf8 154px,#d8dcf1 156px,#dbdff2 159px,#eff1fa 160px,#f6f7fc 161px,#f6f7fc 163px,#fcfdfe 164px,#fbefeb 165px,#faece7 167px,#fbefeb 168px,#fffffe 169px,#fefeff 177px,#f0f2fa 179px,#f0f2fa 181px,#dfe3f4 183px,#e2e5f5 186px,#f4f5fb 187px,#fafbfd 188px,#f0f2fa 196px,#eef0f9 199px,#f8f9fd 201px,#f9fafd 286px)"></i><i class="hb" style="left:288px;width:9px;background:linear-gradient(#f9e6df 0px,#fafbfd 2px,#f8f9fd 5px,#eef0f9 7px,#eef0f9 9px,#fff 11px,#fefaf9 12px,#fefcfc 14px,#e7eaf7 16px,#ebedf8 24px,#edeff9 27px,#fefcfb 29px,#fdf7f4 30px,#fdf6f3 32px,#f9e6df 34px,#f9e6df 36px,#fcf4f1 37px,#f7f8fc 38px,#f6f7fc 41px,#f9eae4 42px,#f3cec5 43px,#f5d5cc 54px,#f6dcd3 55px,#fbeeea 56px,#fcf3ef 59px,#fdfefe 60px,#f9f9fd 62px,#f9fafd 68px,#fbeeea 69px,#f5d9d0 70px,#f5d6cd 73px,#f6dbd1 74px,#f4d1c8 77px,#f5d5cc 79px,#f3cbc1 81px,#eeb1a6 83px,#eaa39a 88px,#eeb4a9 92px,#f4d3ca 95px,#fbf1ed 96px,#fafafd 97px,#d2d7ef 102px,#969fd4 107px,#5d6dbe 111px,#404faa 117px,#3845a2 124px,#3c4aa7 129px,#5666ba 134px,#9ea7d8 140px,#c4cae8 145px,#d6daf0 149px,#e8ebf7 151px,#eaedf8 154px,#e3e6f5 156px,#e4e8f6 158px,#f2f4fb 159px,#f9fafd 160px,#fcfcfe 163px,#fcf5f2 165px,#fcf5f2 167px,#fcfdfe 168px,#f7f8fc 170px,#fff 175px,#fefeff 176px,#f0f2fa 178px,#edeff9 181px,#e5e8f6 183px,#e5e8f6 185px,#f2f4fb 187px,#f1f3fa 199px,#edf0f9 210px,#edf0f9 286px)"></i><i class="hb" style="left:296px;width:9px;background:linear-gradient(#fbfbfe 0px,#fff 4px,#f6f7fc 7px,#fefaf9 10px,#fcf3f0 11px,#fcf3f0 13px,#fafafd 14px,#eef0f9 15px,#eceef8 18px,#e3e6f5 20px,#e3e6f5 22px,#f0f2fa 24px,#f2f3fb 27px,#fafbfd 29px,#fefeff 32px,#fdf7f5 33px,#fdf7f5 35px,#fefbfb 36px,#f7f8fc 39px,#f7f8fc 40px,#fcf3f0 41px,#f4d3ca 42px,#f5d7ce 49px,#fbf1ed 51px,#fdf9f7 62px,#fffefe 63px,#f4f5fb 65px,#f5f6fc 67px,#fdf9f7 68px,#f5d9cf 69px,#f3cbc1 75px,#f2c7bd 76px,#f3cac0 78px,#edb0a5 83px,#ecaaa1 86px,#eba69d 87px,#efb7ac 90px,#f7e0d8 94px,#fefaf9 95px,#eef0f9 97px,#9aa3d6 105px,#596abd 110px,#4857b0 114px,#3f4da9 118px,#3e4ca9 123px,#4554ae 128px,#596abc 132px,#959fd4 137px,#aab1dd 139px,#b6bde2 142px,#c1c7e7 144px,#c8ceea 147px,#ccd2ec 148px,#e4e7f5 150px,#e9ebf7 153px,#e5e8f6 157px,#f2f4fb 159px,#f4f5fb 162px,#fefeff 164px,#feffff 166px,#f3f4fb 168px,#f7f8fc 175px,#f0f2fa 180px,#e5e8f6 182px,#eaedf8 188px,#e0e4f4 192px,#e0e4f4 193px,#f9fafd 195px,#f7f8fc 198px,#ebeef8 199px,#e7eaf6 201px,#e7eaf6 286px)"></i><i class="hb" style="left:304px;width:10px;background:linear-gradient(#fefbfa 0px,#faece7 1px,#faece7 3px,#fff 5px,#fff 8px,#fdf8f7 11px,#fdf8f7 12px,#fdfdfe 13px,#f6f7fc 14px,#f4f5fb 17px,#e8ebf7 19px,#e4e7f5 26px,#e8ebf7 30px,#f6f7fc 32px,#fafbfd 39px,#fefaf9 40px,#f7e2da 41px,#f7e0d8 48px,#fcf5f3 49px,#f5f6fc 50px,#f5f6fc 57px,#fafbfd 58px,#fdf5f3 60px,#fcf5f2 61px,#fefaf8 62px,#f3f4fb 63px,#eaedf8 64px,#eceef8 66px,#f6f7fc 67px,#fcf4f1 68px,#f8e5de 71px,#f5d6cd 72px,#f3cac0 74px,#f2c6bc 76px,#f2c9bf 77px,#f0c0b5 80px,#f1c5bb 84px,#f0bcb1 86px,#f4d2c8 89px,#fefbfa 91px,#f6f7fc 93px,#bac0e4 100px,#6b7ac4 107px,#5b6cbd 108px,#404eaa 113px,#3947a5 116px,#404faa 121px,#4b5ab2 125px,#5263b8 128px,#6070bf 131px,#a0a8d8 136px,#b8bfe3 139px,#b5bce2 140px,#d1d6ee 146px,#e6e9f6 150px,#e7eaf7 157px,#ebeef8 161px,#f3f5fb 162px,#f1f3fa 170px,#e7eaf7 172px,#e7eaf7 174px,#f4f6fb 176px,#f4f6fb 179px,#e5e8f6 181px,#e9ecf7 188px,#dde1f3 190px,#dde1f3 192px,#f4f6fb 194px,#f4f6fb 197px,#e7eaf7 199px,#e7eaf7 286px)"></i><i class="hb" style="left:313px;width:9px;background:linear-gradient(#f6dad1 0px,#f7ded6 3px,#f9e8e2 4px,#faeae5 7px,#fefdfc 9px,#fafbfd 20px,#ebedf8 23px,#e7eaf6 29px,#f2f4fb 31px,#f4f6fb 34px,#feffff 35px,#fbefeb 36px,#faece7 43px,#f8e4dd 46px,#f8e4dd 47px,#fcf2ef 48px,#f7f8fc 49px,#f4f5fb 52px,#eaedf8 54px,#eaedf8 56px,#fdfdfe 58px,#fff 61px,#f1f3fa 63px,#f6f8fc 66px,#fefeff 67px,#fcf3f0 70px,#f7e1d9 71px,#f5d5cb 72px,#f2c9bf 78px,#f4d1c7 84px,#f3cac1 85px,#f5d5cc 87px,#f7dfd7 88px,#fefeff 89px,#f2f4fb 90px,#d8ddf1 95px,#5565b9 108px,#4656af 111px,#3a48a6 113px,#3947a4 115px,#4150ab 117px,#4453ae 120px,#5d6ebe 127px,#838fcd 131px,#a9b1dd 135px,#bfc5e6 138px,#e6e9f6 146px,#f0f2fa 156px,#f3f5fb 159px,#f2f3fb 169px,#dfe3f4 171px,#dfe3f4 173px,#f5f6fc 175px,#f3f5fb 179px,#eceff9 180px,#e9ecf7 191px,#f4f5fb 193px,#f2f4fb 197px,#eef0f9 201px,#eef0f9 286px)"></i><i class="hb" style="left:321px;width:9px;background:linear-gradient(#f8e3dc 0px,#f8e3db 6px,#fefeff 8px,#fefeff 15px,#fbf1ed 17px,#fbf0ed 19px,#fbfbfe 21px,#fafbfd 25px,#fbfcfe 29px,#f5f6fc 32px,#f5f6fc 33px,#fff 34px,#f9e7e1 35px,#f8e6df 37px,#f9e9e4 38px,#fdf9f7 39px,#fffefd 40px,#fffdfd 42px,#fcf2ef 44px,#fcf3f0 51px,#fbfcfe 52px,#f1f3fa 53px,#f3f4fb 56px,#fcfdfe 58px,#fefdfc 67px,#fdf7f5 69px,#f7e2da 71px,#f4d4ca 76px,#f4d0c6 80px,#f5d8cf 83px,#f4d3ca 84px,#f6ddd4 86px,#f9e6e0 87px,#fff 88px,#f3f5fb 89px,#d7dcf0 94px,#7b88ca 103px,#5a6bbd 107px,#4554ae 113px,#4959b1 119px,#5b6cbd 124px,#838fcd 129px,#a0a9d9 132px,#c0c6e6 137px,#ced3ed 138px,#eff1fa 144px,#f6f7fc 151px,#f2f3fb 169px,#eaedf8 170px,#eaedf8 172px,#f7f8fc 174px,#f6f7fc 178px,#edf0f9 186px,#f4f5fb 189px,#f2f4fb 286px)"></i><i class="hb" style="left:329px;width:10px;background:linear-gradient(#fafbfd 0px,#fbfcfe 1px,#fbf1ed 3px,#fbf1ed 5px,#fff 7px,#fffdfd 19px,#f7f8fc 22px,#f8f9fd 23px,#fff 24px,#f8e5df 25px,#f8e2db 27px,#f9e7e1 28px,#fcfcfe 29px,#f5f6fc 30px,#f9fafd 33px,#fefcfb 35px,#fbfbfe 38px,#fafafd 46px,#f7ded6 48px,#f7ded6 50px,#fcfcfe 52px,#fefcfc 64px,#fcf4f1 68px,#f8e5df 70px,#f7dfd7 73px,#f5d7ce 75px,#f7e1d9 80px,#faebe6 82px,#fbf0ec 84px,#fefeff 86px,#e2e5f5 91px,#c9ceea 94px,#b3bae1 96px,#7684c8 103px,#5a6bbd 108px,#4e5eb4 114px,#4857b0 115px,#4c5bb3 118px,#5d6dbe 122px,#b1b9e0 132px,#cacfeb 136px,#dbdff2 138px,#f2f4fb 143px,#fbfbfe 150px,#f7f8fc 154px,#eceff9 157px,#eff1fa 163px,#f5f6fc 166px,#f4f5fb 172px,#fbfcfe 175px,#f0f2fa 184px,#f6f7fc 190px,#f1f3fa 206px,#f1f3fa 286px)"></i><i class="hb" style="left:338px;width:9px;background:linear-gradient(#e7eaf7 0px,#fafbfd 2px,#fff 9px,#fcf4f2 11px,#fdf7f5 14px,#fffdfd 16px,#fffefe 18px,#f2f4fb 20px,#f2f4fb 22px,#f9fafd 23px,#f9e9e3 24px,#f7e2da 25px,#f8e3db 27px,#fffdfd 28px,#f8f9fd 29px,#fbfcfe 32px,#fcf5f2 34px,#fcf4f2 36px,#fffefe 37px,#fafbfd 41px,#f3f5fb 43px,#f4f6fb 45px,#fff 46px,#faede8 47px,#faece7 49px,#fbf0ed 50px,#fefaf8 51px,#fefbfa 54px,#fcf4f2 58px,#feffff 60px,#fffdfd 63px,#faece7 65px,#f9e8e2 67px,#f4d4ca 69px,#f4d1c7 74px,#f6ddd4 79px,#f9e8e3 81px,#fefcfb 83px,#f5f7fc 86px,#dde1f3 90px,#8792cf 100px,#6d7cc4 105px,#596abc 111px,#5565b9 113px,#4757b0 114px,#4a59b1 117px,#6e7cc5 122px,#9aa3d6 127px,#d3d8ef 135px,#f4f5fb 142px,#fdfdfe 149px,#f9fafd 153px,#e4e7f5 155px,#e4e7f5 158px,#eaedf8 160px,#eaecf8 162px,#f5f7fc 164px,#f1f3fa 171px,#f9fafd 173px,#f7f8fc 185px,#f5f6fc 194px,#f2f4fb 286px)"></i><i class="hb" style="left:346px;width:9px;background:linear-gradient(#ebedf8 0px,#f6f8fc 1px,#fefeff 8px,#fdf6f3 10px,#fcf3ef 13px,#f9e9e3 14px,#f8e5de 17px,#fffdfd 18px,#f4f5fb 19px,#f7f8fc 22px,#fefbf9 23px,#fcf2ee 24px,#fbf1ed 26px,#fefbfa 27px,#fdfdfe 30px,#fffefe 31px,#f9e9e4 32px,#f7e1da 33px,#f7dfd7 35px,#faebe6 37px,#faece7 40px,#fdf7f4 41px,#fef9f8 43px,#fefcfb 49px,#fefeff 52px,#fffdfd 54px,#fdf8f6 55px,#fdf8f7 58px,#fff 59px,#fff 62px,#faece7 64px,#f9e9e3 66px,#f8e3dc 67px,#f5d4cb 68px,#f4cfc6 70px,#f4d4cb 76px,#f3cec4 77px,#f5d8cf 80px,#fdf5f3 82px,#fffefe 83px,#eceef8 87px,#d3d8ef 90px,#98a1d5 97px,#6978c3 106px,#5c6dbe 110px,#5869bc 112px,#4a59b1 113px,#4655af 114px,#4b5ab2 116px,#5666ba 117px,#6978c3 118px,#c9cfea 132px,#ebedf8 138px,#fcfcfe 147px,#f8f9fd 152px,#eaedf8 154px,#eaecf8 157px,#f2f4fb 158px,#f7f8fc 166px,#eef0f9 169px,#f5f6fc 174px,#f7f8fc 180px,#f7f8fc 192px,#f1f3fa 197px,#f1f3fa 286px)"></i><i class="hb" style="left:354px;width:9px;background:linear-gradient(#fafafd 0px,#fefcfb 4px,#fdf6f4 5px,#fcf3ef 8px,#faede8 9px,#f9e9e3 12px,#f4d4ca 13px,#f2c9c0 14px,#f2c9bf 16px,#f5d9d0 17px,#fefcfb 18px,#fff 21px,#fdf7f5 24px,#fef9f8 29px,#fdf7f5 30px,#f9e9e3 31px,#f7e1d9 32px,#f7dfd6 34px,#faede8 36px,#f8e6df 43px,#fcf3f0 45px,#fdf6f3 48px,#fdfdfe 49px,#fbfbfe 53px,#fefeff 61px,#fefaf9 62px,#faede8 63px,#f9e7e1 66px,#f6ded5 67px,#f5d9d0 69px,#f5d7ce 73px,#f6dcd3 75px,#f4d3ca 77px,#f6ded5 79px,#fefaf9 81px,#fdfdfe 82px,#eceff9 86px,#d3d8ef 89px,#c5cbe9 90px,#949ed4 97px,#8590ce 102px,#707ec5 104px,#6474c1 107px,#5b6cbd 109px,#5a6bbd 111px,#5162b7 113px,#5666ba 115px,#7b88ca 117px,#a5addb 125px,#c6cce9 130px,#eceef8 137px,#fbfcfe 147px,#f6f7fc 152px,#f5f6fc 156px,#fafbfd 158px,#f8f9fd 165px,#f0f2fa 168px,#f3f5fb 179px,#f8f9fd 183px,#f8f9fd 192px,#f1f3fa 195px,#f1f3fa 286px)"></i><i class="hb" style="left:362px;width:10px;background:linear-gradient(#fefeff 0px,#fefeff 2px,#fbefeb 4px,#fbefeb 6px,#faeae5 7px,#f7ded6 8px,#f6dbd2 11px,#f1c3b9 13px,#f1c3b9 15px,#f3ccc2 16px,#f8e3dc 17px,#f9e9e3 18px,#f9e9e3 20px,#fef9f8 22px,#fdf7f4 29px,#f7dfd7 31px,#f6ddd4 33px,#f7e2da 34px,#fbf0ec 35px,#fbf1ed 38px,#faece7 43px,#f8e5de 45px,#f8e5df 47px,#feffff 49px,#fff 52px,#fdf8f6 54px,#fdf8f7 56px,#fff 58px,#fffefe 60px,#fdf7f5 61px,#f8e5df 62px,#f7e1d9 64px,#f6ded5 68px,#f6ddd5 72px,#fbeeea 77px,#fefdfc 79px,#eaedf8 84px,#ccd1ec 88px,#b1b9e0 91px,#909ad2 97px,#8591ce 101px,#6978c3 103px,#6473c1 107px,#6877c3 111px,#7381c7 114px,#8793cf 117px,#a9b1dc 124px,#c5cbe9 128px,#ebeef8 137px,#fafafd 146px,#f5f6fc 150px,#fdfdfe 153px,#fbfcfe 160px,#f4f6fb 166px,#fafafd 173px,#f1f3fa 176px,#edeff9 182px,#f4f6fb 185px,#f9fafd 197px,#f9fafd 286px)"></i><i class="hb" style="left:371px;width:9px;background:linear-gradient(#fefcfb 0px,#fdf8f7 2px,#fcf4f1 4px,#fbf0ed 6px,#f7e2da 7px,#f6dcd3 8px,#f5d6cc 14px,#f5d9d0 15px,#f9e9e3 16px,#fbeeea 17px,#faede9 19px,#fefcfb 20px,#f9fafd 22px,#fffdfd 28px,#f8e4dd 30px,#f6dad0 37px,#fbeee9 39px,#faebe6 42px,#f8e4dd 44px,#f8e4dd 46px,#fbf0ec 48px,#fbeeea 51px,#f8e3dc 52px,#f7dfd7 54px,#f7e0d8 55px,#fcf5f2 57px,#fcf2ee 60px,#f8e6df 61px,#f7e2da 63px,#f9e6df 65px,#faede9 68px,#faede9 69px,#f9e8e2 70px,#fbf0ec 74px,#fbf0ec 75px,#fefcfb 77px,#f8f9fd 79px,#e2e6f5 83px,#acb4de 90px,#8893cf 98px,#828ecd 100px,#7a87c9 101px,#6a79c3 102px,#6776c2 105px,#707ec6 106px,#7986c9 111px,#96a0d5 118px,#b0b7df 123px,#cbd1eb 127px,#f3f4fb 139px,#f2f4fb 150px,#fbfbfe 152px,#fdfdfe 159px,#eff1fa 161px,#f3f4fb 164px,#fbfcfe 172px,#f4f6fb 177px,#ebedf8 179px,#ebedf8 181px,#f6f8fc 183px,#fcfcfe 203px,#fcfcfe 286px)"></i><i class="hb" style="left:379px;width:9px;background:linear-gradient(#fefcfc 0px,#fef9f8 5px,#fbeeea 7px,#fbf1ee 10px,#fdf7f5 11px,#fdf8f6 14px,#fff 15px,#f9fafd 19px,#f2f4fb 20px,#f3f5fb 23px,#fcfcfe 24px,#faebe6 32px,#f5d9d0 33px,#f4d1c7 34px,#f3cfc5 36px,#f5d5cb 37px,#f7e1d9 38px,#f7e1da 41px,#f9e8e2 44px,#faebe6 46px,#fbf1ed 47px,#fcf1ee 50px,#f8e5de 51px,#f6ded5 52px,#f7dfd6 54px,#faebe5 56px,#faece7 59px,#f8e3dc 61px,#f8e5de 63px,#fcf5f2 65px,#fefbf9 68px,#fdf5f3 70px,#fefdfc 72px,#fdf7f5 73px,#faebe6 74px,#fdf6f4 76px,#fff 77px,#dee2f3 82px,#a9b1dd 89px,#7c88ca 100px,#6f7ec5 102px,#6e7dc5 104px,#7886c9 106px,#7f8bcb 111px,#b0b7df 121px,#d5d9ef 127px,#f4f6fb 139px,#f4f6fb 140px,#e9ebf7 142px,#f0f2fa 149px,#f8f9fd 152px,#fafbfd 158px,#edeff9 160px,#eceff9 162px,#f8f9fd 165px,#f9fafd 176px,#f1f3fa 179px,#f9f9fd 184px,#fafbfd 286px)"></i><i class="hb" style="left:387px;width:9px;background:linear-gradient(#fdfdfe 0px,#fff 13px,#f8f9fd 16px,#f2f4fb 22px,#fbfbfe 23px,#fdf7f5 24px,#fcf2ee 31px,#f5d9cf 33px,#f6dad1 41px,#f6ddd4 44px,#f7e2da 45px,#fbf0ec 46px,#fcf5f2 49px,#f9e7e0 51px,#f9e7e1 54px,#f8e5de 57px,#f8e2da 59px,#f7e0d8 61px,#f9e7e0 63px,#fcf3f0 64px,#fefcfc 67px,#fefeff 72px,#fcf2ee 73px,#fcf3f0 74px,#fefeff 76px,#e7eaf6 79px,#a7afdc 88px,#7e8bcb 99px,#7280c6 101px,#707ec6 103px,#7b88ca 105px,#8490cd 111px,#b7bee3 121px,#c2c8e7 122px,#d7dcf0 126px,#e2e5f4 130px,#f0f2fa 133px,#f2f4fb 135px,#f0f2fa 138px,#f1f2fa 139px,#e2e6f5 141px,#e8eaf7 144px,#f2f3fb 145px,#fafafd 152px,#f3f4fb 157px,#f6f7fc 162px,#fdfdfe 164px,#fafafd 167px,#f6f7fc 180px,#f9f9fd 185px,#f5f6fc 215px,#f5f6fc 286px)"></i><i class="hb" style="left:395px;width:10px;background:linear-gradient(#f9fafd 0px,#f7f8fc 4px,#f3f5fb 7px,#fef9f8 9px,#fbefeb 10px,#fbeeea 12px,#fefaf9 13px,#fbfbfe 15px,#f8f9fd 21px,#fff 25px,#fcf3f0 29px,#faece8 31px,#f8e5de 33px,#f7e1da 35px,#f5d9d0 37px,#f4d2c9 43px,#f5d5cc 44px,#f8e3dc 45px,#faeae4 46px,#faebe6 48px,#f8e3dc 50px,#f9e8e3 61px,#faece7 62px,#fdf7f5 63px,#fff 65px,#f8f9fd 74px,#eceef8 76px,#e0e3f4 77px,#b2b9e0 85px,#929cd3 92px,#818dcc 98px,#7482c7 100px,#7280c7 102px,#7e8bcb 105px,#8994d0 110px,#c3c9e8 121px,#d6daf0 124px,#e3e7f5 129px,#f1f3fa 131px,#f5f6fc 134px,#ebedf8 136px,#ebeef8 139px,#eaedf8 142px,#edf0f9 143px,#f8f9fd 144px,#fdfdfe 147px,#f3f4fb 156px,#fcfcfe 159px,#fcfdfe 166px,#f4f6fb 174px,#fbfcfe 183px,#f5f7fc 197px,#f5f7fc 286px)"></i><i class="hb" style="left:404px;width:9px;background:linear-gradient(#f6f7fc 0px,#f0f2fa 6px,#f2f4fb 7px,#fefaf9 8px,#f9e6e0 9px,#f8e5df 11px,#fbefeb 12px,#fefeff 13px,#fffdfd 28px,#fcf1ee 34px,#f8e2db 36px,#f7ded6 39px,#f6dad1 42px,#f6dbd2 43px,#f9e8e2 45px,#f9e8e2 48px,#f9e7e0 51px,#f9e8e2 52px,#fcf4f2 54px,#fcf4f2 57px,#fbf0ec 58px,#fcf5f3 61px,#fffffe 62px,#fcfcfe 66px,#fefeff 68px,#f1f2fa 74px,#d9ddf1 76px,#8e99d2 91px,#7e8bcb 101px,#8d98d1 108px,#d8ddf1 124px,#e1e5f4 128px,#eff1fa 130px,#f4f6fb 133px,#f0f2fa 136px,#f2f3fb 142px,#fefeff 144px,#fdfdfe 147px,#f8f9fd 150px,#fff 160px,#f5f7fc 173px,#fcfcfe 188px,#fbfcfe 286px)"></i><i class="hb" style="left:412px;width:9px;background:linear-gradient(#fbfbfe 0px,#f6f7fc 6px,#fffefd 7px,#f9e9e4 8px,#f9e9e3 10px,#fbf0ed 11px,#fcfcfe 12px,#fdfdfe 16px,#fefaf8 20px,#fbefeb 22px,#faede9 24px,#fefaf9 25px,#fdfdfe 27px,#fefbfa 33px,#faebe6 35px,#f9e8e3 45px,#fcf4f2 51px,#fff 52px,#fafafd 55px,#fffefd 59px,#f8f9fd 65px,#fefeff 67px,#f1f3fa 73px,#d6dbf0 76px,#a3abda 85px,#8b96d0 91px,#8f99d2 94px,#8591ce 100px,#8490ce 104px,#9ea6d8 110px,#dbdff2 123px,#e1e4f4 127px,#f2f4fb 130px,#f4f6fb 137px,#eef0f9 139px,#f9fafd 149px,#fefdfc 154px,#f9fafd 165px,#f4f5fb 173px,#fafbfd 178px,#fefeff 185px,#fefbfa 194px,#fefbfa 286px)"></i><i class="hb" style="left:420px;width:10px;background:linear-gradient(#fdf7f5 0px,#fff 2px,#fdfefe 5px,#fef9f8 6px,#fbeeea 7px,#faede8 9px,#fcf2ee 10px,#fbfcfe 11px,#f8f9fd 14px,#fefeff 19px,#fcf2ef 20px,#faece7 21px,#f9e9e3 23px,#fdfefe 25px,#fefeff 32px,#fbf0ec 34px,#faede8 37px,#f8e3dc 39px,#f9eae4 46px,#fcf2ef 48px,#fcf4f2 50px,#fff 51px,#f9fafd 53px,#fefeff 58px,#f8f9fd 64px,#fcfdfe 66px,#f0f2fa 72px,#b5bce2 80px,#8b96d0 90px,#929cd3 93px,#8994cf 102px,#a3acda 109px,#d2d7ee 118px,#e9ecf7 127px,#f4f5fb 129px,#f9fafd 136px,#f2f3fb 138px,#f1f3fa 145px,#f7f8fc 148px,#fffdfd 152px,#fffefe 159px,#fefdfc 163px,#f8f9fd 166px,#f3f5fb 168px,#ebedf8 169px,#eceef8 172px,#f4f6fb 174px,#f4f6fb 176px,#fefcfc 178px,#fefbfa 186px,#fef9f8 286px)"></i><i class="hb" style="left:429px;width:9px;background:linear-gradient(#fbf1ed 0px,#fcf5f2 4px,#faece8 7px,#fbeee9 9px,#fefdfc 10px,#fefeff 14px,#fdf8f6 18px,#faece7 20px,#f9e9e4 22px,#fcf4f1 24px,#fcf2ee 27px,#fefdfc 28px,#fff 31px,#fdf7f5 32px,#f9e8e2 33px,#f7dfd7 39px,#f8e4dd 41px,#faebe6 42px,#fbf1ed 49px,#fcfcfe 51px,#fafbfd 54px,#fefdfc 55px,#fdf6f4 56px,#fdfdfe 62px,#f1f3fa 70px,#d4d9ef 75px,#c3c9e8 76px,#a2aad9 84px,#9ca4d7 86px,#909ad2 88px,#8c97d1 90px,#929cd3 92px,#919cd3 101px,#afb6df 109px,#e1e4f4 120px,#fdfdfe 134px,#f5f7fc 147px,#fdfdfe 152px,#fafbfd 157px,#fefeff 158px,#fefaf8 160px,#fbfcfe 163px,#f5f7fc 165px,#f2f3fb 167px,#e9ecf7 168px,#e9ecf7 171px,#f4f6fb 173px,#f4f6fb 175px,#fefbfa 177px,#fefaf9 185px,#fefdfc 199px,#fefdfc 286px)"></i><i class="hb" style="left:437px;width:9px;background:linear-gradient(#fdf7f5 0px,#fcf3ef 8px,#fffefd 9px,#fcfcfe 12px,#fefeff 13px,#fcf3f0 14px,#faede8 17px,#fbefeb 20px,#f9e9e4 26px,#fdf7f5 28px,#fcf5f2 30px,#fbeeea 31px,#f6ded5 32px,#f5d9d0 35px,#f7e1d9 38px,#f8e5df 40px,#fbefeb 41px,#fcf4f1 44px,#faebe6 46px,#faede9 48px,#fcfcfe 50px,#f8f9fd 53px,#fefdfc 54px,#faede9 55px,#fefaf9 61px,#fffefe 62px,#edf0f9 67px,#d9ddf1 73px,#c7cdea 74px,#b0b8e0 79px,#9ea7d8 85px,#8e99d1 87px,#8a95d0 90px,#8994cf 93px,#929cd3 96px,#9ca5d7 102px,#bcc3e5 110px,#eceff9 121px,#fbfcfe 135px,#f9fafd 148px,#fffefd 150px,#fbfcfe 153px,#f6f7fc 155px,#fefcfb 159px,#fcfcfe 162px,#f5f6fc 163px,#f2f4fb 170px,#fbfcfe 172px,#fefeff 175px,#fdf9f8 178px,#fdf8f7 184px,#fffdfd 187px,#fffdfd 286px)"></i><i class="hb" style="left:445px;width:9px;background:linear-gradient(#fbfbfe 0px,#fdfdfe 7px,#f4f6fb 10px,#f6f7fc 12px,#fdfdfe 13px,#fefaf9 17px,#fdf7f5 21px,#fbeeea 25px,#fbf0ec 28px,#faede8 30px,#f7e1d9 32px,#f8e3dc 35px,#f9e8e3 37px,#faebe5 39px,#fdf8f6 41px,#fdf9f7 43px,#f9e8e3 45px,#faeae4 47px,#fbefea 48px,#fefeff 49px,#f8f9fd 52px,#fff 53px,#faebe6 54px,#fbf1ed 57px,#fbefea 59px,#fbfcfe 62px,#eff1fa 64px,#d4d9ef 71px,#d3d8ef 72px,#c7cce9 73px,#adb4de 79px,#9ba4d7 84px,#8a95d0 86px,#7e8acb 92px,#818dcc 93px,#909ad2 94px,#97a0d5 97px,#98a1d5 100px,#edeff9 119px,#f8f9fd 133px,#f9fafd 147px,#fffefe 148px,#fefcfb 151px,#fefeff 152px,#f6f7fc 153px,#f6f8fc 156px,#fffefe 158px,#f9fafd 165px,#fefeff 170px,#fdf7f4 184px,#fdf6f4 286px)"></i><i class="hb" style="left:453px;width:10px;background:linear-gradient(#f8f9fd 0px,#f6f7fc 11px,#fffdfd 16px,#fbefeb 17px,#f7ded6 24px,#f9e9e4 26px,#f9e8e2 29px,#fbf0ec 31px,#fcf3f0 42px,#f9e9e4 44px,#faede8 47px,#fdf8f7 48px,#feffff 49px,#fefdfc 52px,#faede8 53px,#fcf2ef 56px,#faece8 58px,#fdf6f4 60px,#fdfdfe 61px,#f1f2fa 63px,#afb6df 77px,#a5addb 79px,#98a1d5 81px,#8691ce 88px,#8591ce 92px,#939dd3 94px,#a3acda 101px,#f0f2fa 118px,#f2f3fb 120px,#eceff9 121px,#f9f9fd 133px,#f9fafd 142px,#f6f7fc 146px,#fcfcfe 150px,#f8f9fd 155px,#fff 158px,#fff 169px,#fdf9f7 175px,#fdf7f5 286px)"></i><i class="hb" style="left:462px;width:9px;background:linear-gradient(#f9f9fd 0px,#fdfdfe 6px,#fdf8f6 10px,#fefeff 12px,#fff 14px,#fefaf9 15px,#faece8 16px,#f6dbd2 22px,#f6dcd3 24px,#f8e5de 25px,#f8e5de 28px,#fcf3f0 30px,#fbf0ec 33px,#faeae5 35px,#faeae5 37px,#f8e4dd 39px,#faebe6 46px,#fdf8f6 48px,#fefbfa 51px,#fcf4f1 52px,#fefaf9 55px,#fdf6f4 57px,#fff 59px,#e3e6f5 65px,#afb7df 75px,#a4acda 78px,#96a0d5 80px,#919bd2 82px,#939dd3 85px,#909ad2 91px,#b6bde2 104px,#e6e9f6 114px,#f3f5fb 118px,#f2f4fb 119px,#eaecf8 120px,#eff1fa 127px,#f8f9fd 130px,#fff 140px,#f5f7fc 143px,#f5f7fc 154px,#fdfdfe 157px,#fffefd 181px,#fefeff 286px)"></i><i class="hb" style="left:470px;width:9px;background:linear-gradient(#f7f8fc 0px,#fefdfc 3px,#fefaf9 5px,#faede9 7px,#faece7 9px,#fcf5f2 11px,#fcf3f0 14px,#fdf9f7 16px,#fcf2ee 19px,#faebe5 21px,#f9eae4 23px,#fcf4f1 25px,#fcf2ee 27px,#f8e5de 29px,#f7e1d9 36px,#faeae5 39px,#fbefeb 45px,#fefcfc 48px,#fff 50px,#fefbfa 52px,#fefeff 56px,#eceef8 63px,#d0d5ee 67px,#b5bce2 72px,#a8b0dc 77px,#9ba4d6 80px,#9ba4d7 85px,#97a1d5 90px,#a9b1dd 99px,#e8ebf7 113px,#f3f4fb 117px,#eef0f9 120px,#f1f3fa 127px,#f7f8fc 131px,#fff 133px,#fefcfb 140px,#f8f9fd 145px,#f8f9fd 154px,#fffffe 176px,#f9fafd 188px,#f9fafd 286px)"></i><i class="hb" style="left:478px;width:9px;background:linear-gradient(#fbfbfe 0px,#fffefd 5px,#fdf8f6 9px,#fbf1ed 10px,#faede8 13px,#fffefd 15px,#fcf4f1 22px,#fefeff 23px,#fcfcfe 26px,#fefcfb 27px,#f8e4dd 28px,#f7dfd7 30px,#f6dbd1 35px,#f7e0d8 36px,#faede8 37px,#fbf1ee 40px,#f8e4dd 42px,#f9e7e1 44px,#fbf0ec 45px,#fff 46px,#fdfdfe 50px,#f5f6fc 59px,#eceef8 62px,#d8dcf1 65px,#ccd1ec 66px,#adb5de 73px,#9aa3d6 87px,#a6aedb 96px,#e4e7f5 111px,#f7f8fc 123px,#fafbfd 130px,#fffdfd 132px,#fdf9f7 139px,#fff 142px,#fafbfd 148px,#fefeff 153px,#f8f9fd 158px,#f7f8fc 166px,#fefeff 167px,#fefcfb 175px,#fafbfd 178px,#fcfcfe 286px)"></i><i class="hb" style="left:486px;width:10px;background:linear-gradient(#fefbfa 0px,#fffdfd 4px,#fffefe 7px,#fefbfa 8px,#fcf3f0 9px,#faede9 12px,#fdf9f7 14px,#faede9 21px,#fff 23px,#fefbfa 26px,#fcf2ef 28px,#fbf1ee 30px,#f6ded5 32px,#f7e0d9 35px,#faeae5 37px,#faece7 39px,#f5d6cd 41px,#f5d9d0 43px,#f7e1d9 44px,#fefaf9 45px,#fcfcfe 47px,#eff1fa 57px,#f2f4fb 59px,#dee2f3 63px,#cdd2ec 64px,#bdc4e5 67px,#a9b1dc 74px,#99a2d5 87px,#abb3dd 95px,#c0c6e7 101px,#dee1f3 107px,#fbfbfe 120px,#fffffe 129px,#fef9f8 133px,#fefcfb 143px,#fbfcfe 147px,#fefcfc 150px,#fefeff 156px,#f4f6fb 158px,#f7f8fc 165px,#fdfefe 166px,#fefcfc 174px,#fbfbfe 179px,#fff 187px,#fff 286px)"></i><i class="hb" style="left:495px;width:9px;background:linear-gradient(#fefdfc 0px,#fcf4f1 7px,#faebe5 10px,#faece7 12px,#fbf0ec 13px,#f8e3dc 24px,#f8e5df 25px,#fdf6f3 26px,#fefdfc 27px,#fefcfb 29px,#f9e8e2 31px,#faede9 38px,#f6dcd3 40px,#f7dfd7 42px,#f8e4dd 43px,#fdf7f5 44px,#fefeff 45px,#f3f5fb 53px,#e7eaf7 59px,#d8dcf1 62px,#cad0eb 63px,#afb6df 69px,#9ca5d7 84px,#97a0d5 86px,#a2aad9 92px,#e8eaf7 108px,#fbfcfe 118px,#fefbfa 128px,#fdf9f7 133px,#fefdfc 137px,#fdf6f4 140px,#fdf8f6 142px,#fff 143px,#fbfcfe 146px,#fefeff 152px,#fcfdfe 170px,#fffdfd 286px)"></i><i class="hb" style="left:503px;width:9px;background:linear-gradient(#fcfcfe 0px,#fefdfc 5px,#fefbfa 6px,#faece7 8px,#faebe5 11px,#faede8 13px,#faebe6 15px,#fcf5f3 17px,#fcf3f0 19px,#faece8 20px,#f7e0d8 21px,#f6dcd3 24px,#faede9 26px,#f9e7e1 35px,#f9e7e0 38px,#f7e1d9 39px,#f9e7e0 42px,#fefbfa 43px,#f8f9fd 46px,#eceef8 51px,#eef0f9 53px,#dbdff2 59px,#adb5de 68px,#9da5d7 85px,#9fa8d8 90px,#d1d6ee 101px,#d1d6ee 103px,#d9ddf1 105px,#e5e8f6 106px,#f6f7fc 112px,#fbfbfe 119px,#f4f6fb 121px,#f6f7fc 123px,#fffffe 124px,#fdf8f6 125px,#fdf9f7 132px,#fefeff 135px,#fffefd 137px,#fdf8f6 139px,#fdf9f7 141px,#fff 142px,#f9f9fd 143px,#fefeff 164px,#f7f8fc 172px,#fffefd 178px,#fefbfa 286px)"></i><i class="hb" style="left:511px;width:9px;background:linear-gradient(#fbfbfe 0px,#fbfbfe 5px,#fefbfa 6px,#faece7 7px,#f9eae4 10px,#fbefea 12px,#faece8 14px,#fdf8f6 15px,#fcfdfe 16px,#fffefe 19px,#faede9 20px,#f9e7e1 21px,#f8e2da 24px,#f6ddd5 27px,#f7dfd7 28px,#f9e9e3 30px,#f9e9e4 32px,#f7dfd7 34px,#f7e0d8 37px,#f5d8cf 38px,#f6dbd2 41px,#fcf3f0 42px,#f8f9fd 43px,#eef0f9 47px,#e6e9f6 50px,#ebeef8 52px,#d9ddf1 58px,#b1b9e0 66px,#9fa7d8 77px,#a2aad9 87px,#a3abda 89px,#c4cae8 96px,#c0c6e6 97px,#c9ceea 100px,#c6cce9 102px,#cdd2ec 104px,#eceef8 106px,#fbfbfe 114px,#fcfcfe 118px,#f3f5fb 120px,#f4f5fb 122px,#fefeff 123px,#fdf8f6 124px,#fdf6f4 131px,#fffffe 133px,#fefbfa 140px,#fdfdfe 141px,#f3f5fb 142px,#fff 159px,#fbfcfe 175px,#fffefe 193px,#fffefe 286px)"></i><i class="hb" style="left:519px;width:10px;background:linear-gradient(#fdfdfe 0px,#fdf9f7 4px,#f9e7e1 6px,#f8e5df 9px,#fbefeb 10px,#fcf3f0 11px,#fbf1ed 13px,#fefbfb 14px,#f9fafd 16px,#fbfbfe 18px,#fbeeea 20px,#faede8 22px,#f6ddd5 24px,#f6ddd5 27px,#f9e8e2 28px,#faede9 29px,#fbeee9 31px,#f7e0d8 33px,#f7e1d9 36px,#f5d9d0 37px,#f5d8cf 39px,#f6dad1 40px,#fbf0ec 41px,#f8f9fd 42px,#e6e9f6 49px,#f1f3fa 51px,#dce0f2 57px,#ccd2ec 58px,#afb6df 66px,#a1aad9 80px,#a9b1dd 88px,#c0c7e7 94px,#c7cdea 95px,#c2c8e8 96px,#cbd1ec 99px,#c8ceea 101px,#ced3ed 103px,#e8ebf7 105px,#fbfcfe 111px,#fbfcfe 118px,#f9f9fd 121px,#fefcfb 123px,#fefaf9 130px,#fdfdfe 134px,#fcfcfe 140px,#f4f5fb 141px,#fafafd 149px,#fff 152px,#fdfefe 217px,#fdfefe 286px)"></i><i class="hb" style="left:528px;width:9px;background:linear-gradient(#fbeeea 0px,#f7e1d9 1px,#f8e3db 4px,#faeae4 5px,#f9e9e4 12px,#fcfdfe 14px,#fcfcfe 17px,#fefaf8 18px,#fbf1ed 19px,#faede8 22px,#f9e7e0 24px,#f9e7e0 26px,#fbefea 28px,#faede9 31px,#f9e9e3 33px,#fdf8f6 39px,#fefeff 40px,#f5f6fc 42px,#e9ecf7 48px,#f4f5fb 50px,#e0e3f4 55px,#ced3ed 56px,#b5bce2 62px,#a2aad9 72px,#a1a9d9 80px,#b1b8e0 88px,#cacfeb 94px,#c9cfeb 96px,#dde1f3 103px,#eaedf8 105px,#eff1fa 107px,#f9fafd 109px,#fdfdfe 117px,#fdfdfe 122px,#f8f9fd 134px,#fafbfd 140px,#fcfcfe 148px,#fcfdfe 157px,#fdfefe 162px,#fff 286px)"></i><i class="hb" style="left:536px;width:9px;background:linear-gradient(#faebe5 0px,#faeae5 3px,#fcf3f0 4px,#fcf3f1 7px,#f9e7e1 9px,#f8e5de 11px,#f9e9e4 12px,#fefbfb 13px,#fff 16px,#fdf6f4 18px,#fefaf8 33px,#fdfefe 35px,#edeff9 48px,#f0f2fa 50px,#d9ddf1 54px,#ccd1ec 55px,#b5bce2 61px,#aab2dd 66px,#9fa8d8 68px,#9fa7d8 76px,#adb4de 84px,#fafafd 109px,#fff 124px,#fafbfd 128px,#fbfbfe 134px,#fafafd 138px,#fffefe 141px,#fafbfd 146px,#fffefd 151px,#fefcfc 286px)"></i><i class="hb" style="left:544px;width:10px;background:linear-gradient(#fefbfa 0px,#fdf9f8 6px,#fbf0ec 10px,#fbf0ec 11px,#fdf9f7 13px,#fcf4f1 16px,#fbeee9 18px,#fbeeea 20px,#fefbfa 22px,#fdfdfe 31px,#f2f3fb 45px,#e6e9f6 50px,#dadef2 52px,#cacfeb 54px,#a8b0dc 63px,#99a2d6 69px,#9ea7d8 72px,#9ea7d8 74px,#a6aedb 77px,#b8bfe3 86px,#eff1fa 101px,#fdfefe 113px,#fffdfd 124px,#fafbfd 133px,#f8f9fd 137px,#fffefe 139px,#fbfcfe 146px,#fffdfd 153px,#fefbfa 174px,#fefaf8 286px)"></i><i class="hb" style="left:553px;width:9px;background:linear-gradient(#fefaf9 0px,#fbf1ed 5px,#fbeee9 11px,#faebe6 15px,#f9e6e0 19px,#fcf4f2 21px,#fcf4f1 23px,#fdfdfe 25px,#f5f7fc 38px,#edf0f9 45px,#e1e4f4 49px,#c3c9e8 54px,#a7afdc 63px,#9fa7d8 69px,#b7bee3 84px,#eff2fa 99px,#fefeff 111px,#fefcfb 122px,#fbfcfe 132px,#f8f9fd 136px,#fffefd 149px,#fefcfc 172px,#fef9f8 183px,#fef9f8 286px)"></i><i class="hb" style="left:561px;width:3px;background:linear-gradient(#fbeeea 0px,#f8e3dc 9px,#f9e8e2 12px,#faebe6 19px,#fbf0ec 21px,#fbf1ed 23px,#fefcfb 24px,#fefeff 28px,#fefcfc 30px,#fbfbfe 34px,#f1f3fa 41px,#f0f2fa 44px,#d6daf0 50px,#c9ceea 52px,#b3bae1 59px,#a5addb 68px,#a8b0dc 73px,#a9b1dc 77px,#bfc5e6 86px,#d4d9ef 90px,#f3f5fb 100px,#fff 110px,#fdf8f6 117px,#fffefd 120px,#fff 131px,#f8f9fd 134px,#fbfcfe 141px,#fffffe 145px,#fefbf9 148px,#fefcfb 154px,#fefeff 159px,#fefcfb 187px,#fefcfb 286px)"></i><i id="ca"></i><i id="cb"></i><svg width="685" height="673" viewBox="0 0 685 673"><defs><clipPath id="cA"><rect x="108.2" y="9.8" width="452.3" height="283.2"/></clipPath><clipPath id="cB"><rect x="103.5" y="316.0" width="459.7" height="284.5"/></clipPath><clipPath id="cI"><rect x="400.1" y="458.7" width="129.2" height="99.5"/></clipPath><filter id="b1" x="-20%" y="-50%" width="140%" height="200%"><feGaussianBlur stdDeviation="1.8"/></filter><filter id="b1s" x="-20%" y="-50%" width="140%" height="200%"><feGaussianBlur stdDeviation="1.0"/></filter><filter id="b2" x="-30%" y="-30%" width="160%" height="160%"><feGaussianBlur stdDeviation="5"/></filter><filter id="nz" x="0" y="0" width="100%" height="100%"><feTurbulence type="fractalNoise" baseFrequency="0.28" numOctaves="2" seed="4"/><feColorMatrix type="matrix" values="0 0 0 0 1  0 0 0 0 1  0 0 0 0 1  1.2 0 0 0 -0.6"/></filter><filter id="nz2" x="0" y="0" width="100%" height="100%"><feTurbulence type="fractalNoise" baseFrequency="0.28" numOctaves="2" seed="9"/><feColorMatrix type="matrix" values="0 0 0 0 0  0 0 0 0 0  0 0 0 0 0  1.2 0 0 0 -0.6"/></filter></defs><g clip-path="url(#cA)"><line x1="141.0" y1="251.0" x2="387.5" y2="10.0" stroke="#6c6c6c" stroke-width="4.10" /><line x1="138.0" y1="248.5" x2="303.1" y2="5.0" stroke="#000" stroke-width="4.60" stroke-dasharray="15.3 14.96"/><path d="M240 109.9L565 45.0M230 136.2L565 69.7" stroke="#f0a8a0" stroke-width="0.8" opacity="0.75" fill="none"/></g><line x1="188.6" y1="120.2" x2="566.0" y2="44.8" stroke="#5cae50" stroke-width="5.20" stroke-dasharray="14.5 16.15"/><line x1="188.6" y1="144.4" x2="566.0" y2="69.5" stroke="#5cae50" stroke-width="5.20" stroke-dasharray="14.5 16.15"/><line x1="112.0" y1="281.4" x2="168.0" y2="281.4" stroke="#fff" stroke-width="2.80" /><path d="M109.4 281.4L117.9 275.2L114.9 281.4L117.9 287.6Z" fill="#fff"/><path d="M171.0 281.4L162.5 275.2L165.5 281.4L162.5 287.6Z" fill="#fff"/><line x1="175.5" y1="281.4" x2="231.0" y2="281.4" stroke="#fff" stroke-width="2.80" /><path d="M172.5 281.4L181.0 275.2L178.0 281.4L181.0 287.6Z" fill="#fff"/><path d="M234.2 281.4L225.7 275.2L228.7 281.4L225.7 287.6Z" fill="#fff"/><text x="128.6" y="266.6" font-size="24.0" fill="#fff">t</text><text x="136.2" y="276.6" font-size="16.0" fill="#fff">rise</text><text x="192.3" y="266.6" font-size="24.0" fill="#fff">t</text><text x="199.6" y="276.6" font-size="16.0" fill="#fff">fall</text><rect x="108.2" y="9.8" width="452.3" height="283.2" fill="none" stroke="#000" stroke-width="1.6"/><path d="M129.8 9.8L129.8 15.3M129.8 293.0L129.8 287.5M151.4 9.8L151.4 15.3M151.4 293.0L151.4 287.5M172.9 9.8L172.9 15.3M172.9 293.0L172.9 287.5M194.5 9.8L194.5 21.8M194.5 293.0L194.5 281.0M216.0 9.8L216.0 15.3M216.0 293.0L216.0 287.5M237.6 9.8L237.6 15.3M237.6 293.0L237.6 287.5M259.2 9.8L259.2 15.3M259.2 293.0L259.2 287.5M280.7 9.8L280.7 15.3M280.7 293.0L280.7 287.5M302.3 9.8L302.3 21.8M302.3 293.0L302.3 281.0M323.8 9.8L323.8 15.3M323.8 293.0L323.8 287.5M345.4 9.8L345.4 15.3M345.4 293.0L345.4 287.5M367.0 9.8L367.0 15.3M367.0 293.0L367.0 287.5M388.5 9.8L388.5 15.3M388.5 293.0L388.5 287.5M410.1 9.8L410.1 21.8M410.1 293.0L410.1 281.0M431.6 9.8L431.6 15.3M431.6 293.0L431.6 287.5M453.2 9.8L453.2 15.3M453.2 293.0L453.2 287.5M474.8 9.8L474.8 15.3M474.8 293.0L474.8 287.5M496.3 9.8L496.3 15.3M496.3 293.0L496.3 287.5M517.9 9.8L517.9 21.8M517.9 293.0L517.9 281.0M539.4 9.8L539.4 15.3M539.4 293.0L539.4 287.5M108.2 272.8L113.7 272.8M560.5 272.8L555.0 272.8M108.2 252.5L120.2 252.5M560.5 252.5L548.5 252.5M108.2 232.3L113.7 232.3M560.5 232.3L555.0 232.3M108.2 212.1L113.7 212.1M560.5 212.1L555.0 212.1M108.2 191.9L113.7 191.9M560.5 191.9L555.0 191.9M108.2 171.6L120.2 171.6M560.5 171.6L548.5 171.6M108.2 151.4L113.7 151.4M560.5 151.4L555.0 151.4M108.2 131.2L113.7 131.2M560.5 131.2L555.0 131.2M108.2 110.9L113.7 110.9M560.5 110.9L555.0 110.9M108.2 90.7L120.2 90.7M560.5 90.7L548.5 90.7M108.2 70.5L113.7 70.5M560.5 70.5L555.0 70.5M108.2 50.3L113.7 50.3M560.5 50.3L555.0 50.3M108.2 30.0L113.7 30.0M560.5 30.0L555.0 30.0" stroke="#000" stroke-width="1.50" fill="none"/><text x="123.3" y="49.2" font-size="28.5">(a)</text><text x="95.2" y="19.4" font-size="27.5" text-anchor="end">160</text><text x="95.2" y="100.3" font-size="27.5" text-anchor="end">140</text><text x="95.2" y="181.2" font-size="27.5" text-anchor="end">120</text><text x="95.2" y="262.1" font-size="27.5" text-anchor="end">100</text><g clip-path="url(#cB)"><line x1="402.3" y1="316.0" x2="84.1" y2="610.0" stroke="#6c6c6c" stroke-width="4.10" /><line x1="320.8" y1="300.0" x2="97.5" y2="610.0" stroke="#000" stroke-width="4.60" stroke-dasharray="13 9.69" stroke-dashoffset="0.25"/><path d="M190 452.0L565 379.6" stroke="#a8b0e0" stroke-width="0.9" fill="none"/><line x1="267.5" y1="316.0" x2="267.5" y2="601.0" stroke="#d42a36" stroke-width="3.20" stroke-dasharray="10.2 8.2" stroke-dashoffset="-1.8"/></g><line x1="185.5" y1="428.2" x2="566.0" y2="354.4" stroke="#5cae50" stroke-width="5.20" stroke-dasharray="14.5 16.15"/><line x1="185.5" y1="452.9" x2="566.0" y2="379.4" stroke="#5cae50" stroke-width="5.20" stroke-dasharray="14.5 16.15"/><rect x="368" y="453" width="178" height="133" fill="#fff"/><rect x="400.1" y="458.7" width="129.2" height="99.5" fill="#828282"/><g clip-path="url(#cI)"><path d="M398 468L455 456L470 456L420 486L398 495Z" fill="#6c6c6c" filter="url(#b2)"/><path d="M398 522L412 535L438 562L398 562Z" fill="#a4a4a4" filter="url(#b2)"/><path d="M450 494L466 496L470 503L454 503Z" fill="#3e3e3e" filter="url(#b1)"/><path d="M422 484L440 483L455 487L458 491.5L445 490.5L427 489Z" fill="#fafafa" filter="url(#b1s)"/><path d="M455 490L466 496L464 499L454 494Z" fill="#c8c8c8" filter="url(#b1s)"/><path d="M462 500L471 495L483 497L494 505L490 509L468 509L462 506Z" fill="#fff" filter="url(#b1s)"/><path d="M424 531L440 525L462 517L482 510L494 507L493 513L478 519L455 528L433 537L425 537Z" fill="#080808" filter="url(#b1s)"/><path d="M437 522L470 514" stroke="#ccc" stroke-width="1" filter="url(#b1s)"/><rect x="400.1" y="458.7" width="129.2" height="99.5" filter="url(#nz)" opacity="0.45"/><rect x="400.1" y="458.7" width="129.2" height="99.5" filter="url(#nz2)" opacity="0.45"/><line x1="400.1" y1="507.7" x2="529.3" y2="507.7" stroke="#d42a36" stroke-width="2.80" stroke-dasharray="9 8"/></g><rect x="400.1" y="458.7" width="129.2" height="99.5" fill="none" stroke="#000" stroke-width="1.5"/><path d="M425.7 458.7L425.7 461.2M425.7 558.2L425.7 555.7M451.2 458.7L451.2 461.2M451.2 558.2L451.2 555.7M476.7 458.7L476.7 461.2M476.7 558.2L476.7 555.7M503.3 458.7L503.3 461.2M503.3 558.2L503.3 555.7M400.1 467.3L402.6 467.3M529.3 467.3L526.8 467.3M400.1 475.7L402.6 475.7M529.3 475.7L526.8 475.7M400.1 484.0L402.6 484.0M529.3 484.0L526.8 484.0M400.1 492.4L402.6 492.4M529.3 492.4L526.8 492.4M400.1 500.7L402.6 500.7M529.3 500.7L526.8 500.7M400.1 509.1L402.6 509.1M529.3 509.1L526.8 509.1M400.1 517.4L402.6 517.4M529.3 517.4L526.8 517.4M400.1 525.8L402.6 525.8M529.3 525.8L526.8 525.8M400.1 534.1L402.6 534.1M529.3 534.1L526.8 534.1M400.1 542.5L402.6 542.5M529.3 542.5L526.8 542.5M400.1 550.8L402.6 550.8M529.3 550.8L526.8 550.8" stroke="#000" stroke-width="1.00" fill="none"/><text x="393.5" y="473.3" font-size="14.0" text-anchor="end">250</text><text x="393.5" y="514.4" font-size="14.0" text-anchor="end">200</text><text x="393.5" y="556.0" font-size="14.0" text-anchor="end">150</text><text x="400.5" y="572.8" font-size="14.0" text-anchor="middle">100</text><text x="529.0" y="572.8" font-size="14.0" text-anchor="middle">150</text><text x="439" y="577" font-size="14.5">x<tspan font-size="9.0" dy="4.0">1</tspan><tspan dy="-4"> [c</tspan><tspan dx="1">/</tspan><tspan dx="1">ω</tspan><tspan font-size="9.0" dy="4.0">0</tspan><tspan dy="-4" dx="1">]</tspan></text><text transform="translate(363,539.5) rotate(-90)" font-size="14.5">x<tspan font-size="9.0" dy="4.0">2</tspan><tspan dy="-4"> [c</tspan><tspan dx="1">/</tspan><tspan dx="1">ω</tspan><tspan font-size="9.0" dy="4.0">0</tspan><tspan dy="-4" dx="1">]</tspan></text><line x1="394.0" y1="483.8" x2="283.0" y2="468.2" stroke="#d42f2f" stroke-width="1.60" /><path d="M273.6 466.7L285.5 461.5L283.8 473.6Z" fill="#d42f2f"/><rect x="103.5" y="316.0" width="459.7" height="284.5" fill="none" stroke="#000" stroke-width="1.6"/><path d="M126.3 316.0L126.3 321.5M126.3 600.5L126.3 595.0M149.3 316.0L149.3 321.5M149.3 600.5L149.3 595.0M172.3 316.0L172.3 321.5M172.3 600.5L172.3 595.0M195.4 316.0L195.4 328.0M195.4 600.5L195.4 588.5M218.4 316.0L218.4 321.5M218.4 600.5L218.4 595.0M241.4 316.0L241.4 321.5M241.4 600.5L241.4 595.0M264.4 316.0L264.4 321.5M264.4 600.5L264.4 595.0M287.4 316.0L287.4 321.5M287.4 600.5L287.4 595.0M310.5 316.0L310.5 328.0M310.5 600.5L310.5 588.5M333.5 316.0L333.5 321.5M333.5 600.5L333.5 595.0M356.5 316.0L356.5 321.5M356.5 600.5L356.5 595.0M379.5 316.0L379.5 321.5M379.5 600.5L379.5 595.0M402.5 316.0L402.5 321.5M402.5 600.5L402.5 595.0M425.6 316.0L425.6 328.0M425.6 600.5L425.6 588.5M448.6 316.0L448.6 321.5M448.6 600.5L448.6 595.0M471.6 316.0L471.6 321.5M471.6 600.5L471.6 595.0M494.6 316.0L494.6 321.5M494.6 600.5L494.6 595.0M517.6 316.0L517.6 321.5M517.6 600.5L517.6 595.0M540.7 316.0L540.7 328.0M540.7 600.5L540.7 588.5M103.5 580.2L109.0 580.2M563.2 580.2L557.7 580.2M103.5 559.9L115.5 559.9M563.2 559.9L551.2 559.9M103.5 539.5L109.0 539.5M563.2 539.5L557.7 539.5M103.5 519.2L109.0 519.2M563.2 519.2L557.7 519.2M103.5 498.9L109.0 498.9M563.2 498.9L557.7 498.9M103.5 478.6L115.5 478.6M563.2 478.6L551.2 478.6M103.5 458.2L109.0 458.2M563.2 458.2L557.7 458.2M103.5 437.9L109.0 437.9M563.2 437.9L557.7 437.9M103.5 417.6L109.0 417.6M563.2 417.6L557.7 417.6M103.5 397.3L115.5 397.3M563.2 397.3L551.2 397.3M103.5 377.0L109.0 377.0M563.2 377.0L557.7 377.0M103.5 356.6L109.0 356.6M563.2 356.6L557.7 356.6M103.5 336.3L109.0 336.3M563.2 336.3L557.7 336.3" stroke="#000" stroke-width="1.50" fill="none"/><text x="119.1" y="358.2" font-size="28.5">(b)</text><text x="89.8" y="325.6" font-size="27.5" text-anchor="end">160</text><text x="89.8" y="406.9" font-size="27.5" text-anchor="end">140</text><text x="89.8" y="488.2" font-size="27.5" text-anchor="end">120</text><text x="89.8" y="569.5" font-size="27.5" text-anchor="end">100</text><text x="196.2" y="628.3" font-size="27.5" text-anchor="middle">500</text><text x="311.3" y="628.3" font-size="27.5" text-anchor="middle">1000</text><text x="426.4" y="628.3" font-size="27.5" text-anchor="middle">1500</text><text x="541.5" y="628.3" font-size="27.5" text-anchor="middle">2000</text><text x="303" y="662" font-size="26">t [ω<tspan font-size="17.0" dy="7.0">0</tspan><tspan font-size="17.0" dy="-18.0">-1</tspan><tspan dy="11">]</tspan></text><path d="M575.4 284.3L579.2 284.3M597.4 284.3L593.6 284.3M575.4 274.1L582.1 274.1M597.4 274.1L590.7 274.1M575.4 264.0L579.2 264.0M597.4 264.0L593.6 264.0M575.4 253.8L579.2 253.8M597.4 253.8L593.6 253.8M575.4 243.6L579.2 243.6M597.4 243.6L593.6 243.6M575.4 233.4L582.1 233.4M597.4 233.4L590.7 233.4M575.4 223.2L579.2 223.2M597.4 223.2L593.6 223.2M575.4 213.0L579.2 213.0M597.4 213.0L593.6 213.0M575.4 202.9L579.2 202.9M597.4 202.9L593.6 202.9M575.4 192.7L582.1 192.7M597.4 192.7L590.7 192.7M575.4 182.5L579.2 182.5M597.4 182.5L593.6 182.5M575.4 172.3L579.2 172.3M597.4 172.3L593.6 172.3M575.4 162.1L579.2 162.1M597.4 162.1L593.6 162.1M575.4 151.9L582.1 151.9M597.4 151.9L590.7 151.9M575.4 141.8L579.2 141.8M597.4 141.8L593.6 141.8M575.4 131.6L579.2 131.6M597.4 131.6L593.6 131.6M575.4 121.4L579.2 121.4M597.4 121.4L593.6 121.4M575.4 111.2L582.1 111.2M597.4 111.2L590.7 111.2M575.4 101.0L579.2 101.0M597.4 101.0L593.6 101.0M575.4 90.9L579.2 90.9M597.4 90.9L593.6 90.9M575.4 80.7L579.2 80.7M597.4 80.7L593.6 80.7M575.4 70.5L582.1 70.5M597.4 70.5L590.7 70.5M575.4 60.3L579.2 60.3M597.4 60.3L593.6 60.3M575.4 50.1L579.2 50.1M597.4 50.1L593.6 50.1M575.4 39.9L579.2 39.9M597.4 39.9L593.6 39.9M575.4 29.8L582.1 29.8M597.4 29.8L590.7 29.8M575.4 19.6L579.2 19.6M597.4 19.6L593.6 19.6" stroke="#000" stroke-width="1.50" fill="none"/><rect x="575.4" y="9.4" width="22.0" height="285.1" fill="none" stroke="#000" stroke-width="1.6"/><text x="611.8" y="39.4" font-size="27.5">14</text><text x="611.8" y="80.1" font-size="27.5">12</text><text x="611.8" y="120.8" font-size="27.5">10</text><text x="611.8" y="161.5" font-size="27.5">8</text><text x="611.8" y="202.2" font-size="27.5">6</text><text x="611.8" y="242.9" font-size="27.5">4</text><text x="611.8" y="283.6" font-size="27.5">2</text><path d="M577.5 594.0L581.3 594.0M600.5 594.0L596.7 594.0M577.5 587.2L581.3 587.2M600.5 587.2L596.7 587.2M577.5 580.4L581.3 580.4M600.5 580.4L596.7 580.4M577.5 573.6L581.3 573.6M600.5 573.6L596.7 573.6M577.5 566.8L581.3 566.8M600.5 566.8L596.7 566.8M577.5 560.0L581.3 560.0M600.5 560.0L596.7 560.0M577.5 553.2L581.3 553.2M600.5 553.2L596.7 553.2M577.5 546.3L581.3 546.3M600.5 546.3L596.7 546.3M577.5 539.5L581.3 539.5M600.5 539.5L596.7 539.5M577.5 532.7L584.2 532.7M600.5 532.7L593.8 532.7M577.5 525.9L581.3 525.9M600.5 525.9L596.7 525.9M577.5 519.1L581.3 519.1M600.5 519.1L596.7 519.1M577.5 512.3L581.3 512.3M600.5 512.3L596.7 512.3M577.5 505.5L581.3 505.5M600.5 505.5L596.7 505.5M577.5 498.7L581.3 498.7M600.5 498.7L596.7 498.7M577.5 491.9L581.3 491.9M600.5 491.9L596.7 491.9M577.5 485.1L581.3 485.1M600.5 485.1L596.7 485.1M577.5 478.3L581.3 478.3M600.5 478.3L596.7 478.3M577.5 471.5L581.3 471.5M600.5 471.5L596.7 471.5M577.5 464.7L584.2 464.7M600.5 464.7L593.8 464.7M577.5 457.9L581.3 457.9M600.5 457.9L596.7 457.9M577.5 451.1L581.3 451.1M600.5 451.1L596.7 451.1M577.5 444.2L581.3 444.2M600.5 444.2L596.7 444.2M577.5 437.4L581.3 437.4M600.5 437.4L596.7 437.4M577.5 430.6L581.3 430.6M600.5 430.6L596.7 430.6M577.5 423.8L581.3 423.8M600.5 423.8L596.7 423.8M577.5 417.0L581.3 417.0M600.5 417.0L596.7 417.0M577.5 410.2L581.3 410.2M600.5 410.2L596.7 410.2M577.5 403.4L581.3 403.4M600.5 403.4L596.7 403.4M577.5 396.6L584.2 396.6M600.5 396.6L593.8 396.6M577.5 389.8L581.3 389.8M600.5 389.8L596.7 389.8M577.5 383.0L581.3 383.0M600.5 383.0L596.7 383.0M577.5 376.2L581.3 376.2M600.5 376.2L596.7 376.2M577.5 369.4L581.3 369.4M600.5 369.4L596.7 369.4M577.5 362.6L581.3 362.6M600.5 362.6L596.7 362.6M577.5 355.8L581.3 355.8M600.5 355.8L596.7 355.8M577.5 349.0L581.3 349.0M600.5 349.0L596.7 349.0M577.5 342.1L581.3 342.1M600.5 342.1L596.7 342.1M577.5 335.3L581.3 335.3M600.5 335.3L596.7 335.3M577.5 328.5L584.2 328.5M600.5 328.5L593.8 328.5M577.5 321.7L581.3 321.7M600.5 321.7L596.7 321.7" stroke="#000" stroke-width="1.50" fill="none"/><rect x="577.5" y="315.6" width="23.0" height="285.2" fill="none" stroke="#000" stroke-width="1.6"/><text x="613.3" y="338.2" font-size="27.5">2</text><text x="613.3" y="406.4" font-size="27.5">1</text><text x="613.3" y="474.6" font-size="27.5">0</text><text x="612.5" y="542.8" font-size="27.5">-1</text><text x="612.5" y="611.0" font-size="27.5">-2</text><text transform="translate(25,211.5) rotate(-90)" font-size="27">x<tspan font-size="14.0" dy="7.5">1</tspan><tspan dy="-7.5" dx="1"> [</tspan><tspan dx="1">c</tspan><tspan dx="2.5" font-size="31">/</tspan><tspan dx="1.5" font-size="25">ω</tspan><tspan font-size="15" dy="7" dx="1">0</tspan><tspan dy="-7" dx="3">]</tspan></text><text transform="translate(21.5,525.5) rotate(-90)" font-size="27">x<tspan font-size="14.0" dy="7.5">1</tspan><tspan dy="-7.5" dx="1"> [</tspan><tspan dx="1">c</tspan><tspan dx="2.5" font-size="31">/</tspan><tspan dx="1.5" font-size="25">ω</tspan><tspan font-size="15" dy="7" dx="1">0</tspan><tspan dy="-7" dx="3">]</tspan></text><text transform="translate(675.5,181) rotate(-90)" font-size="27">n<tspan font-size="15.0" dy="9.5">e</tspan><tspan dy="-9.5" dx="2.5" font-size="30">/</tspan><tspan dx="6">n</tspan><tspan font-size="15.0" dy="9.5">cr</tspan></text><text transform="translate(672,551.5) rotate(-90)" font-size="27">B<tspan font-size="16.0" dy="7.0">3</tspan><tspan dy="-7"> [m</tspan><tspan font-size="16.0" dy="7.0">e</tspan><tspan dy="-7"> c ω</tspan><tspan font-size="16.0" dy="7.0">0</tspan><tspan dy="-7" dx="2">/</tspan><tspan dx="1">e]</tspan></text></svg></div></body></html>
